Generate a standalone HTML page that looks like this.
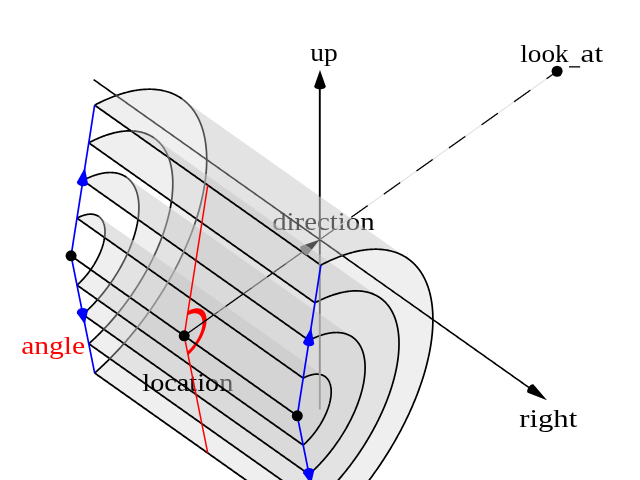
<!DOCTYPE html><html><head><meta charset="utf-8"><style>html,body{margin:0;padding:0;background:#fff;overflow:hidden}svg{display:block;will-change:transform}text{font-family:"Liberation Serif",serif}</style></head><body><svg width="640" height="480" viewBox="0 0 640 480"><defs><clipPath id="dh1"><path d="M294.97,233.97h24.56v0.56h-24.56zM294.97,234.47h24.56v0.56h-24.56zM294.97,234.97h24.56v0.56h-24.56zM294.97,235.47h25.06v0.56h-25.06zM294.97,235.97h25.06v0.56h-25.06zM294.97,236.47h25.06v0.56h-25.06zM294.97,236.97h25.06v0.56h-25.06zM294.97,237.47h25.06v0.56h-25.06zM295.97,237.97h24.06v0.56h-24.06zM296.47,238.47h23.56v0.56h-23.56zM297.47,238.97h22.56v0.56h-22.56zM297.97,239.47h22.06v0.56h-22.06zM298.47,239.97h21.56v0.56h-21.56zM299.47,240.47h20.56v0.56h-20.56zM299.97,240.97h20.06v0.56h-20.06zM300.97,241.47h19.06v0.56h-19.06zM301.47,241.97h18.56v0.56h-18.56zM301.97,242.47h18.06v0.56h-18.06zM302.97,242.97h17.06v0.56h-17.06zM303.47,243.47h16.06v0.56h-16.06zM304.47,243.97h15.06v0.56h-15.06zM304.97,244.47h14.56v0.56h-14.56zM305.97,244.97h13.56v0.56h-13.56zM306.47,245.47h13.06v0.56h-13.06zM306.97,245.97h12.56v0.56h-12.56zM307.97,246.47h11.56v0.56h-11.56zM308.47,246.97h11.06v0.56h-11.06zM309.47,247.47h10.06v0.56h-10.06zM309.97,247.97h9.56v0.56h-9.56zM310.47,248.47h9.06v0.56h-9.06zM311.47,248.97h8.06v0.56h-8.06zM311.97,249.47h7.56v0.56h-7.56zM312.97,249.97h6.56v0.56h-6.56zM313.47,250.47h6.06v0.56h-6.06zM313.97,250.97h5.56v0.56h-5.56zM314.97,251.47h4.56v0.56h-4.56zM315.47,251.97h4.06v0.56h-4.06zM316.47,252.47h2.56v0.56h-2.56zM316.97,252.97h2.06v0.56h-2.06zM317.97,253.47h1.06v0.56h-1.06zM318.47,253.97h0.56v0.56h-0.56z"/></clipPath><clipPath id="dh3"><path d="M294.97,237.97h1.06v0.56h-1.06zM294.97,238.47h1.56v0.56h-1.56zM294.97,238.97h2.56v0.56h-2.56zM294.97,239.47h3.06v0.56h-3.06zM294.97,239.97h3.56v0.56h-3.56zM294.97,240.47h4.56v0.56h-4.56zM294.97,240.97h5.06v0.56h-5.06zM294.97,241.47h6.06v0.56h-6.06zM294.97,241.97h6.56v0.56h-6.56zM294.97,242.47h7.06v0.56h-7.06zM294.97,242.97h8.06v0.56h-8.06zM294.97,243.47h8.56v0.56h-8.56zM294.97,243.97h9.56v0.56h-9.56zM294.97,244.47h10.06v0.56h-10.06zM294.97,244.97h11.06v0.56h-11.06zM294.97,245.47h11.56v0.56h-11.56zM294.97,245.97h12.06v0.56h-12.06zM294.97,246.47h13.06v0.56h-13.06zM295.47,246.97h13.06v0.56h-13.06zM295.97,247.47h13.56v0.56h-13.56zM296.97,247.97h13.06v0.56h-13.06zM297.47,248.47h13.06v0.56h-13.06zM298.47,248.97h13.06v0.56h-13.06zM298.97,249.47h13.06v0.56h-13.06zM299.97,249.97h13.06v0.56h-13.06zM300.47,250.47h13.06v0.56h-13.06zM300.97,250.97h13.06v0.56h-13.06zM301.97,251.47h13.06v0.56h-13.06zM302.47,251.97h13.06v0.56h-13.06zM303.47,252.47h13.06v0.56h-13.06zM303.97,252.97h13.06v0.56h-13.06zM304.47,253.47h13.56v0.56h-13.56zM305.47,253.97h13.06v0.56h-13.06zM305.97,254.47h13.06v0.56h-13.06zM306.97,254.97h12.06v0.56h-12.06zM307.47,255.47h11.56v0.56h-11.56zM307.97,255.97h11.06v0.56h-11.06zM308.97,256.47h10.06v0.56h-10.06zM309.47,256.97h9.56v0.56h-9.56zM310.47,257.47h8.06v0.56h-8.06z"/></clipPath><clipPath id="dh2"><path d="M294.97,246.97h0.56v0.56h-0.56zM319.47,246.97h2.56v0.56h-2.56zM294.97,247.47h1.06v0.56h-1.06zM319.47,247.47h2.56v0.56h-2.56zM294.97,247.97h2.06v0.56h-2.06zM319.47,247.97h2.56v0.56h-2.56zM294.97,248.47h2.56v0.56h-2.56zM319.47,248.47h2.56v0.56h-2.56zM294.97,248.97h3.56v0.56h-3.56zM319.47,248.97h2.56v0.56h-2.56zM294.97,249.47h4.06v0.56h-4.06zM319.47,249.47h2.56v0.56h-2.56zM294.97,249.97h5.06v0.56h-5.06zM319.47,249.97h2.56v0.56h-2.56zM294.97,250.47h5.56v0.56h-5.56zM319.47,250.47h2.56v0.56h-2.56zM294.97,250.97h6.06v0.56h-6.06zM319.47,250.97h2.56v0.56h-2.56zM294.97,251.47h7.06v0.56h-7.06zM319.47,251.47h2.56v0.56h-2.56zM294.97,251.97h7.56v0.56h-7.56zM319.47,251.97h2.56v0.56h-2.56zM294.97,252.47h8.56v0.56h-8.56zM318.97,252.47h3.06v0.56h-3.06zM294.97,252.97h9.06v0.56h-9.06zM318.97,252.97h3.06v0.56h-3.06zM294.97,253.47h9.56v0.56h-9.56zM318.97,253.47h3.06v0.56h-3.06zM294.97,253.97h10.56v0.56h-10.56zM318.97,253.97h3.06v0.56h-3.06zM294.97,254.47h11.06v0.56h-11.06zM318.97,254.47h3.06v0.56h-3.06zM294.97,254.97h12.06v0.56h-12.06zM319.97,254.97h2.06v0.56h-2.06zM294.97,255.47h12.56v0.56h-12.56zM320.47,255.47h1.56v0.56h-1.56zM294.97,255.97h13.06v0.56h-13.06zM321.47,255.97h0.56v0.56h-0.56zM294.97,256.47h14.06v0.56h-14.06zM294.97,256.97h14.56v0.56h-14.56zM294.97,257.47h15.56v0.56h-15.56zM319.47,233.97h2.56v0.56h-2.56zM319.47,234.47h2.56v0.56h-2.56zM319.47,234.97h2.56v0.56h-2.56zM319.47,243.47h2.56v0.56h-2.56zM319.47,243.97h2.56v0.56h-2.56zM319.47,244.47h2.56v0.56h-2.56zM319.47,244.97h2.56v0.56h-2.56zM319.47,245.47h2.56v0.56h-2.56zM319.47,245.97h2.56v0.56h-2.56zM319.47,246.47h2.56v0.56h-2.56zM319.97,235.47h2.06v0.56h-2.06zM319.97,235.97h2.06v0.56h-2.06zM319.97,236.47h2.06v0.56h-2.06zM319.97,236.97h2.06v0.56h-2.06zM319.97,237.47h2.06v0.56h-2.06zM319.97,237.97h2.06v0.56h-2.06zM319.97,238.47h2.06v0.56h-2.06zM319.97,238.97h2.06v0.56h-2.06zM319.97,239.47h2.06v0.56h-2.06zM319.97,239.97h2.06v0.56h-2.06zM319.97,240.47h2.06v0.56h-2.06zM319.97,240.97h2.06v0.56h-2.06zM319.97,241.47h2.06v0.56h-2.06zM319.97,241.97h2.06v0.56h-2.06zM319.97,242.47h2.06v0.56h-2.06zM319.97,242.97h2.06v0.56h-2.06z"/></clipPath><clipPath id="dh4"><path d="M318.47,257.47h3.56v0.56h-3.56zM318.97,254.97h1.06v0.56h-1.06zM318.97,255.47h1.56v0.56h-1.56zM318.97,255.97h2.56v0.56h-2.56zM318.97,256.47h3.06v0.56h-3.06zM318.97,256.97h3.06v0.56h-3.06z"/></clipPath><clipPath id="locg"><polygon points="36.17,256.23 344.01,473.98 459.50,310.70 151.66,92.95"/></clipPath><clipPath id="locb"><polygon points="36.17,256.23 344.01,473.98 228.51,637.26 -79.33,419.51"/></clipPath></defs><rect width="640" height="480" fill="#fff"/><text x="272.20" y="230.00" font-size="25.0" textLength="102.50" lengthAdjust="spacingAndGlyphs" fill="#000" >direction</text><g fill="rgb(195,195,195)" fill-opacity="0.27" stroke="none"><polygon points="76.99,285.11 77.84,284.34 78.68,283.56 79.52,282.76 80.35,281.95 81.18,281.11 82.00,280.26 82.81,279.39 83.62,278.51 84.42,277.62 85.21,276.71 85.99,275.78 86.76,274.84 87.52,273.90 88.27,272.93 89.01,271.96 89.74,270.98 90.45,269.99 91.15,268.98 91.84,267.97 92.52,266.96 93.18,265.93 93.83,264.90 94.46,263.86 95.08,262.82 95.68,261.77 96.27,260.72 96.84,259.66 97.39,258.61 97.93,257.55 98.45,256.49 98.95,255.42 99.43,254.36 99.90,253.30 100.35,252.25 100.77,251.19 101.18,250.14 101.57,249.09 101.94,248.04 102.29,247.01 102.61,245.97 102.92,244.94 103.21,243.92 103.48,242.91 103.72,241.91 103.95,240.91 104.15,239.92 104.33,238.95 104.49,237.98 104.63,237.03 104.75,236.09 104.84,235.16 104.91,234.25 104.96,233.35 104.99,232.46 105.00,231.59 104.98,230.74 104.95,229.90 104.89,229.07 104.81,228.27 104.70,227.48 104.58,226.71 104.43,225.96 104.27,225.23 104.08,224.52 103.87,223.83 103.63,223.16 103.38,222.52 103.11,221.89 102.81,221.28 102.50,220.70 102.16,220.14 101.80,219.61 101.43,219.09 101.03,218.60 100.62,218.14 100.18,217.70 99.73,217.28 99.26,216.89 98.77,216.53 324.97,376.53 325.46,376.89 325.93,377.28 326.38,377.70 326.82,378.14 327.23,378.60 327.63,379.09 328.00,379.61 328.36,380.14 328.70,380.70 329.01,381.28 329.31,381.89 329.58,382.52 329.83,383.16 330.07,383.83 330.28,384.52 330.47,385.23 330.63,385.96 330.78,386.71 330.90,387.48 331.01,388.27 331.09,389.07 331.15,389.90 331.18,390.74 331.20,391.59 331.19,392.46 331.16,393.35 331.11,394.25 331.04,395.16 330.95,396.09 330.83,397.03 330.69,397.98 330.53,398.95 330.35,399.92 330.15,400.91 329.92,401.91 329.68,402.91 329.41,403.92 329.12,404.94 328.81,405.97 328.49,407.01 328.14,408.04 327.77,409.09 327.38,410.14 326.97,411.19 326.55,412.25 326.10,413.30 325.63,414.36 325.15,415.42 324.65,416.49 324.13,417.55 323.59,418.61 323.04,419.66 322.47,420.72 321.88,421.77 321.28,422.82 320.66,423.86 320.03,424.90 319.38,425.93 318.72,426.96 318.04,427.97 317.35,428.98 316.65,429.99 315.94,430.98 315.21,431.96 314.47,432.93 313.72,433.90 312.96,434.84 312.19,435.78 311.41,436.71 310.62,437.62 309.82,438.51 309.01,439.39 308.20,440.26 307.38,441.11 306.55,441.95 305.72,442.76 304.88,443.56 304.04,444.34 303.19,445.11"/><polygon points="98.77,216.53 98.57,216.39 98.38,216.26 98.18,216.13 97.97,216.01 97.77,215.89 97.56,215.77 97.35,215.66 97.14,215.55 96.92,215.45 96.70,215.35 96.48,215.26 96.26,215.16 96.03,215.08 95.80,214.99 95.57,214.91 95.34,214.84 95.11,214.76 94.87,214.69 94.63,214.63 94.39,214.57 94.14,214.51 93.90,214.46 93.65,214.41 93.40,214.37 93.14,214.33 92.89,214.29 92.63,214.26 92.37,214.24 92.11,214.21 91.84,214.19 91.58,214.18 91.31,214.16 91.04,214.16 90.77,214.15 90.50,214.15 90.22,214.16 89.94,214.17 89.66,214.18 89.38,214.20 89.10,214.22 88.81,214.24 88.53,214.27 88.24,214.31 87.95,214.34 87.66,214.38 87.37,214.43 87.07,214.48 86.78,214.53 86.48,214.59 86.18,214.65 85.88,214.72 85.58,214.79 85.27,214.86 84.97,214.94 84.66,215.02 84.35,215.10 84.05,215.19 83.74,215.29 83.42,215.38 83.11,215.48 82.80,215.59 82.48,215.70 82.17,215.81 81.85,215.93 81.53,216.05 81.21,216.17 80.89,216.30 80.57,216.43 80.25,216.57 79.93,216.71 79.60,216.85 79.28,217.00 78.95,217.15 78.63,217.31 78.30,217.47 77.97,217.63 77.64,217.80 77.32,217.97 76.99,218.14 303.19,378.14 303.52,377.97 303.84,377.80 304.17,377.63 304.50,377.47 304.83,377.31 305.15,377.15 305.48,377.00 305.80,376.85 306.13,376.71 306.45,376.57 306.77,376.43 307.09,376.30 307.41,376.17 307.73,376.05 308.05,375.93 308.37,375.81 308.68,375.70 309.00,375.59 309.31,375.48 309.62,375.38 309.94,375.29 310.25,375.19 310.55,375.10 310.86,375.02 311.17,374.94 311.47,374.86 311.78,374.79 312.08,374.72 312.38,374.65 312.68,374.59 312.98,374.53 313.27,374.48 313.57,374.43 313.86,374.38 314.15,374.34 314.44,374.31 314.73,374.27 315.01,374.24 315.30,374.22 315.58,374.20 315.86,374.18 316.14,374.17 316.42,374.16 316.70,374.15 316.97,374.15 317.24,374.16 317.51,374.16 317.78,374.18 318.04,374.19 318.31,374.21 318.57,374.24 318.83,374.26 319.09,374.29 319.34,374.33 319.60,374.37 319.85,374.41 320.10,374.46 320.34,374.51 320.59,374.57 320.83,374.63 321.07,374.69 321.31,374.76 321.54,374.84 321.77,374.91 322.00,374.99 322.23,375.08 322.46,375.16 322.68,375.26 322.90,375.35 323.12,375.45 323.34,375.55 323.55,375.66 323.76,375.77 323.97,375.89 324.17,376.01 324.38,376.13 324.58,376.26 324.77,376.39 324.97,376.53"/><polygon points="82.87,314.41 84.57,312.89 86.26,311.32 87.94,309.73 89.60,308.09 91.26,306.42 92.90,304.72 94.53,302.99 96.14,301.23 97.74,299.43 99.32,297.61 100.88,295.76 102.42,293.89 103.94,291.99 105.44,290.07 106.92,288.12 108.37,286.16 109.80,284.17 111.21,282.17 112.59,280.15 113.94,278.11 115.27,276.06 116.56,274.00 117.83,271.92 119.06,269.83 120.27,267.74 121.44,265.63 122.58,263.53 123.69,261.41 124.76,259.29 125.80,257.17 126.80,255.05 127.77,252.93 128.70,250.81 129.59,248.69 130.45,246.58 131.26,244.48 132.04,242.38 132.77,240.29 133.47,238.21 134.13,236.14 134.74,234.09 135.32,232.05 135.85,230.02 136.34,228.01 136.79,226.02 137.20,224.05 137.56,222.10 137.88,220.17 138.16,218.26 138.39,216.38 138.58,214.53 138.73,212.70 138.83,210.90 138.89,209.12 138.90,207.38 138.87,205.67 138.80,203.99 138.68,202.35 138.52,200.74 138.31,199.17 138.06,197.63 137.77,196.13 137.43,194.67 137.05,193.25 136.63,191.87 136.17,190.53 135.66,189.23 135.11,187.98 134.52,186.77 133.89,185.60 133.22,184.48 132.51,183.41 131.76,182.39 130.97,181.41 130.13,180.48 129.27,179.60 128.36,178.76 127.42,177.98 126.44,177.25 352.64,337.25 353.62,337.98 354.56,338.76 355.47,339.60 356.33,340.48 357.17,341.41 357.96,342.39 358.71,343.41 359.42,344.48 360.09,345.60 360.72,346.77 361.31,347.98 361.86,349.23 362.37,350.53 362.83,351.87 363.25,353.25 363.63,354.67 363.97,356.13 364.26,357.63 364.51,359.17 364.72,360.74 364.88,362.35 365.00,363.99 365.07,365.67 365.10,367.38 365.09,369.12 365.03,370.90 364.93,372.70 364.78,374.53 364.59,376.38 364.36,378.26 364.08,380.17 363.76,382.10 363.40,384.05 362.99,386.02 362.54,388.01 362.05,390.02 361.52,392.05 360.94,394.09 360.33,396.14 359.67,398.21 358.97,400.29 358.24,402.38 357.46,404.48 356.65,406.58 355.79,408.69 354.90,410.81 353.97,412.93 353.00,415.05 352.00,417.17 350.96,419.29 349.89,421.41 348.78,423.53 347.64,425.63 346.47,427.74 345.26,429.83 344.03,431.92 342.76,434.00 341.47,436.06 340.14,438.11 338.79,440.15 337.41,442.17 336.00,444.17 334.57,446.16 333.12,448.12 331.64,450.07 330.14,451.99 328.62,453.89 327.08,455.76 325.52,457.61 323.94,459.43 322.34,461.23 320.73,462.99 319.10,464.72 317.46,466.42 315.80,468.09 314.14,469.73 312.46,471.32 310.77,472.89 309.07,474.41"/><polygon points="126.44,177.25 126.05,176.98 125.65,176.72 125.25,176.47 124.85,176.22 124.44,175.98 124.02,175.75 123.60,175.53 123.17,175.31 122.74,175.10 122.31,174.90 121.86,174.71 121.42,174.53 120.97,174.35 120.51,174.18 120.05,174.02 119.58,173.87 119.11,173.73 118.64,173.59 118.16,173.46 117.67,173.34 117.18,173.23 116.69,173.13 116.19,173.03 115.69,172.94 115.18,172.86 114.67,172.79 114.16,172.73 113.64,172.67 113.12,172.62 112.59,172.58 112.06,172.55 111.52,172.53 110.98,172.51 110.44,172.51 109.89,172.51 109.34,172.52 108.78,172.54 108.23,172.56 107.66,172.60 107.10,172.64 106.53,172.69 105.96,172.75 105.38,172.81 104.80,172.89 104.22,172.97 103.63,173.06 103.04,173.16 102.45,173.26 101.86,173.38 101.26,173.50 100.66,173.63 100.05,173.77 99.45,173.92 98.84,174.07 98.22,174.24 97.61,174.41 96.99,174.59 96.37,174.77 95.75,174.97 95.12,175.17 94.50,175.38 93.87,175.60 93.23,175.82 92.60,176.06 91.96,176.30 91.33,176.55 90.69,176.80 90.04,177.07 89.40,177.34 88.75,177.62 88.11,177.91 87.46,178.20 86.81,178.51 86.15,178.82 85.50,179.13 84.85,179.46 84.19,179.79 83.53,180.13 82.87,180.48 309.07,340.48 309.73,340.13 310.39,339.79 311.05,339.46 311.70,339.13 312.35,338.82 313.01,338.51 313.66,338.20 314.31,337.91 314.95,337.62 315.60,337.34 316.24,337.07 316.89,336.80 317.53,336.55 318.16,336.30 318.80,336.06 319.43,335.82 320.07,335.60 320.70,335.38 321.32,335.17 321.95,334.97 322.57,334.77 323.19,334.59 323.81,334.41 324.42,334.24 325.04,334.07 325.65,333.92 326.25,333.77 326.86,333.63 327.46,333.50 328.06,333.38 328.65,333.26 329.24,333.16 329.83,333.06 330.42,332.97 331.00,332.89 331.58,332.81 332.16,332.75 332.73,332.69 333.30,332.64 333.86,332.60 334.43,332.56 334.98,332.54 335.54,332.52 336.09,332.51 336.64,332.51 337.18,332.51 337.72,332.53 338.26,332.55 338.79,332.58 339.32,332.62 339.84,332.67 340.36,332.73 340.87,332.79 341.38,332.86 341.89,332.94 342.39,333.03 342.89,333.13 343.38,333.23 343.87,333.34 344.36,333.46 344.84,333.59 345.31,333.73 345.78,333.87 346.25,334.02 346.71,334.18 347.17,334.35 347.62,334.53 348.06,334.71 348.51,334.90 348.94,335.10 349.37,335.31 349.80,335.53 350.22,335.75 350.64,335.98 351.05,336.22 351.45,336.47 351.85,336.72 352.25,336.98 352.64,337.25"/><polygon points="88.76,343.72 91.31,341.43 93.84,339.09 96.35,336.69 98.86,334.24 101.34,331.73 103.80,329.18 106.24,326.58 108.66,323.94 111.06,321.25 113.43,318.52 115.77,315.75 118.08,312.93 120.36,310.09 122.61,307.20 124.83,304.29 127.01,301.34 129.16,298.36 131.26,295.35 133.33,292.32 135.36,289.27 137.35,286.19 139.29,283.09 141.19,279.98 143.05,276.85 144.85,273.71 146.61,270.55 148.32,267.39 149.98,264.22 151.59,261.04 153.15,257.86 154.65,254.67 156.10,251.49 157.50,248.31 158.84,245.14 160.12,241.97 161.34,238.82 162.51,235.67 163.61,232.53 164.66,229.42 165.64,226.31 166.57,223.23 167.43,220.17 168.23,217.13 168.96,214.12 169.64,211.13 170.25,208.17 170.79,205.25 171.27,202.35 171.69,199.50 172.04,196.67 172.32,193.89 172.54,191.15 172.69,188.44 172.78,185.79 172.80,183.17 172.75,180.61 172.64,178.09 172.47,175.62 172.22,173.21 171.91,170.85 171.54,168.54 171.10,166.29 170.60,164.10 170.03,161.97 169.40,159.90 168.70,157.89 167.94,155.95 167.12,154.07 166.23,152.25 165.29,150.51 164.28,148.83 163.21,147.22 162.08,145.68 160.90,144.21 159.65,142.82 158.35,141.49 156.99,140.25 155.58,139.07 154.11,137.98 380.31,297.98 381.78,299.07 383.19,300.25 384.55,301.49 385.85,302.82 387.10,304.21 388.28,305.68 389.41,307.22 390.48,308.83 391.49,310.51 392.43,312.25 393.32,314.07 394.14,315.95 394.90,317.89 395.60,319.90 396.23,321.97 396.80,324.10 397.30,326.29 397.74,328.54 398.11,330.85 398.42,333.21 398.67,335.62 398.84,338.09 398.95,340.61 399.00,343.17 398.98,345.79 398.89,348.44 398.74,351.15 398.52,353.89 398.24,356.67 397.89,359.50 397.47,362.35 396.99,365.25 396.45,368.17 395.84,371.13 395.16,374.12 394.43,377.13 393.63,380.17 392.77,383.23 391.84,386.31 390.86,389.42 389.81,392.53 388.71,395.67 387.54,398.82 386.32,401.97 385.04,405.14 383.70,408.31 382.30,411.49 380.85,414.67 379.35,417.86 377.79,421.04 376.18,424.22 374.52,427.39 372.81,430.55 371.05,433.71 369.25,436.85 367.39,439.98 365.49,443.09 363.55,446.19 361.56,449.27 359.53,452.32 357.46,455.35 355.36,458.36 353.21,461.34 351.03,464.29 348.81,467.20 346.56,470.09 344.28,472.93 341.97,475.75 339.63,478.52 337.26,481.25 334.86,483.94 332.44,486.58 330.00,489.18 327.54,491.73 325.06,494.24 322.55,496.69 320.04,499.09 317.51,501.43 314.96,503.72"/><polygon points="154.11,137.98 153.52,137.57 152.93,137.18 152.33,136.80 151.72,136.43 151.10,136.07 150.48,135.72 149.85,135.39 149.21,135.06 148.56,134.75 147.91,134.45 147.25,134.17 146.58,133.89 145.90,133.63 145.21,133.37 144.52,133.13 143.82,132.91 143.12,132.69 142.41,132.48 141.69,132.29 140.96,132.11 140.23,131.94 139.49,131.79 138.74,131.64 137.99,131.51 137.23,131.39 136.46,131.28 135.69,131.19 134.91,131.11 134.12,131.04 133.33,130.98 132.53,130.93 131.73,130.89 130.92,130.87 130.11,130.86 129.29,130.86 128.46,130.88 127.63,130.90 126.79,130.94 125.95,130.99 125.10,131.06 124.24,131.13 123.38,131.22 122.52,131.32 121.65,131.43 120.78,131.55 119.90,131.69 119.01,131.84 118.13,132.00 117.23,132.17 116.34,132.35 115.43,132.55 114.53,132.76 113.62,132.98 112.70,133.21 111.79,133.45 110.86,133.71 109.94,133.98 109.01,134.26 108.07,134.55 107.13,134.85 106.19,135.17 105.25,135.50 104.30,135.83 103.35,136.18 102.40,136.55 101.44,136.92 100.48,137.31 99.52,137.70 98.55,138.11 97.58,138.53 96.61,138.96 95.64,139.41 94.66,139.86 93.68,140.33 92.70,140.80 91.72,141.29 90.73,141.79 89.75,142.30 88.76,142.82 314.96,302.82 315.95,302.30 316.93,301.79 317.92,301.29 318.90,300.80 319.88,300.33 320.86,299.86 321.84,299.41 322.81,298.96 323.78,298.53 324.75,298.11 325.72,297.70 326.68,297.31 327.64,296.92 328.60,296.55 329.55,296.18 330.50,295.83 331.45,295.50 332.39,295.17 333.33,294.85 334.27,294.55 335.21,294.26 336.14,293.98 337.06,293.71 337.99,293.45 338.90,293.21 339.82,292.98 340.73,292.76 341.63,292.55 342.54,292.35 343.43,292.17 344.33,292.00 345.21,291.84 346.10,291.69 346.98,291.55 347.85,291.43 348.72,291.32 349.58,291.22 350.44,291.13 351.30,291.06 352.15,290.99 352.99,290.94 353.83,290.90 354.66,290.88 355.49,290.86 356.31,290.86 357.12,290.87 357.93,290.89 358.73,290.93 359.53,290.98 360.32,291.04 361.11,291.11 361.89,291.19 362.66,291.28 363.43,291.39 364.19,291.51 364.94,291.64 365.69,291.79 366.43,291.94 367.16,292.11 367.89,292.29 368.61,292.48 369.32,292.69 370.02,292.91 370.72,293.13 371.41,293.37 372.10,293.63 372.78,293.89 373.45,294.17 374.11,294.45 374.76,294.75 375.41,295.06 376.05,295.39 376.68,295.72 377.30,296.07 377.92,296.43 378.53,296.80 379.13,297.18 379.72,297.57 380.31,297.98"/><polygon points="94.65,373.03 98.04,369.98 101.42,366.85 104.77,363.65 108.11,360.38 111.42,357.05 114.70,353.64 117.96,350.18 121.18,346.65 124.38,343.07 127.54,339.42 130.66,335.73 133.74,331.98 136.78,328.18 139.78,324.34 142.74,320.45 145.65,316.52 148.51,312.55 151.32,308.54 154.08,304.50 156.78,300.42 159.43,296.32 162.02,292.19 164.56,288.04 167.03,283.87 169.44,279.68 171.78,275.47 174.06,271.25 176.28,267.02 178.42,262.78 180.50,258.54 182.51,254.30 184.44,250.06 186.30,245.82 188.08,241.59 189.79,237.36 191.42,233.15 192.98,228.96 194.45,224.78 195.84,220.62 197.16,216.48 198.39,212.37 199.54,208.29 200.60,204.24 201.59,200.22 202.48,196.24 203.30,192.30 204.02,188.40 204.66,184.54 205.21,180.73 205.68,176.96 206.06,173.25 206.35,169.59 206.55,165.99 206.67,162.45 206.70,158.96 206.64,155.54 206.49,152.19 206.25,148.90 205.93,145.68 205.52,142.53 205.02,139.46 204.44,136.46 203.76,133.54 203.01,130.69 202.16,127.93 201.23,125.26 200.22,122.66 199.13,120.16 197.95,117.74 196.68,115.41 195.34,113.17 193.92,111.02 192.41,108.97 190.83,107.02 189.17,105.16 187.43,103.39 185.62,101.73 183.73,100.17 181.78,98.70 407.98,258.70 409.93,260.17 411.82,261.73 413.63,263.39 415.37,265.16 417.03,267.02 418.61,268.97 420.12,271.02 421.54,273.17 422.88,275.41 424.15,277.74 425.33,280.16 426.42,282.66 427.43,285.26 428.36,287.93 429.21,290.69 429.96,293.54 430.64,296.46 431.22,299.46 431.72,302.53 432.13,305.68 432.45,308.90 432.69,312.19 432.84,315.54 432.90,318.96 432.87,322.45 432.75,325.99 432.55,329.59 432.26,333.25 431.88,336.96 431.41,340.73 430.86,344.54 430.22,348.40 429.50,352.30 428.68,356.24 427.79,360.22 426.80,364.24 425.74,368.29 424.59,372.37 423.36,376.48 422.04,380.62 420.65,384.78 419.18,388.96 417.62,393.15 415.99,397.36 414.28,401.59 412.50,405.82 410.64,410.06 408.71,414.30 406.70,418.54 404.62,422.78 402.48,427.02 400.26,431.25 397.98,435.47 395.64,439.68 393.23,443.87 390.76,448.04 388.22,452.19 385.63,456.32 382.98,460.42 380.28,464.50 377.52,468.54 374.71,472.55 371.85,476.52 368.94,480.45 365.98,484.34 362.98,488.18 359.94,491.98 356.86,495.73 353.74,499.42 350.58,503.07 347.38,506.65 344.16,510.18 340.90,513.64 337.62,517.05 334.31,520.38 330.97,523.65 327.62,526.85 324.24,529.98 320.85,533.03"/><polygon points="181.78,98.70 181.00,98.16 180.21,97.64 179.41,97.13 178.59,96.64 177.77,96.16 176.94,95.70 176.10,95.25 175.25,94.82 174.38,94.40 173.51,94.00 172.63,93.62 171.73,93.25 170.83,92.90 169.92,92.56 169.00,92.24 168.07,91.94 167.13,91.65 166.18,91.38 165.22,91.12 164.25,90.88 163.27,90.66 162.28,90.45 161.29,90.26 160.28,90.08 159.27,89.92 158.25,89.78 157.22,89.65 156.18,89.54 155.13,89.45 154.08,89.37 153.01,89.31 151.94,89.26 150.86,89.23 149.78,89.22 148.68,89.22 147.58,89.24 146.47,89.27 145.35,89.32 144.23,89.39 143.10,89.48 141.96,89.58 140.81,89.69 139.66,89.82 138.50,89.97 137.34,90.14 136.16,90.32 134.99,90.52 133.80,90.73 132.61,90.96 131.42,91.20 130.21,91.47 129.00,91.74 127.79,92.04 126.57,92.35 125.35,92.67 124.12,93.01 122.88,93.37 121.64,93.74 120.40,94.13 119.15,94.54 117.89,94.96 116.63,95.39 115.37,95.85 114.10,96.31 112.83,96.80 111.55,97.29 110.27,97.81 108.99,98.34 107.70,98.88 106.41,99.44 105.11,100.02 103.82,100.61 102.51,101.21 101.21,101.83 99.90,102.47 98.59,103.12 97.28,103.79 95.96,104.47 94.65,105.16 320.85,265.16 322.16,264.47 323.48,263.79 324.79,263.12 326.10,262.47 327.41,261.83 328.71,261.21 330.02,260.61 331.31,260.02 332.61,259.44 333.90,258.88 335.19,258.34 336.47,257.81 337.75,257.29 339.03,256.80 340.30,256.31 341.57,255.85 342.83,255.39 344.09,254.96 345.35,254.54 346.60,254.13 347.84,253.74 349.08,253.37 350.32,253.01 351.55,252.67 352.77,252.35 353.99,252.04 355.20,251.74 356.41,251.47 357.62,251.20 358.81,250.96 360.00,250.73 361.19,250.52 362.36,250.32 363.54,250.14 364.70,249.97 365.86,249.82 367.01,249.69 368.16,249.58 369.30,249.48 370.43,249.39 371.55,249.32 372.67,249.27 373.78,249.24 374.88,249.22 375.98,249.22 377.06,249.23 378.14,249.26 379.21,249.31 380.28,249.37 381.33,249.45 382.38,249.54 383.42,249.65 384.45,249.78 385.47,249.92 386.48,250.08 387.49,250.26 388.48,250.45 389.47,250.66 390.45,250.88 391.42,251.12 392.38,251.38 393.33,251.65 394.27,251.94 395.20,252.24 396.12,252.56 397.03,252.90 397.93,253.25 398.83,253.62 399.71,254.00 400.58,254.40 401.45,254.82 402.30,255.25 403.14,255.70 403.97,256.16 404.79,256.64 405.61,257.13 406.41,257.64 407.20,258.16 407.98,258.70"/></g><g clip-path="url(#locb)"><text x="142.30" y="390.60" font-size="25.0" textLength="91.00" lengthAdjust="spacingAndGlyphs" fill="#000" >location</text></g><g clip-path="url(#locg)"><text x="142.30" y="390.60" font-size="25.0" textLength="91.00" lengthAdjust="spacingAndGlyphs" fill="#5e5e5e" >location</text></g><polygon points="187.38,351.63 188.23,350.85 189.07,350.04 189.90,349.21 190.71,348.34 191.52,347.44 192.30,346.52 193.07,345.57 193.82,344.60 194.54,343.61 195.25,342.60 195.93,341.58 196.58,340.55 197.20,339.50 197.80,338.45 198.36,337.39 198.89,336.32 199.39,335.26 199.86,334.20 200.29,333.14 200.69,332.08 201.04,331.04 201.36,330.00 201.65,328.98 201.89,327.98 202.09,326.99 202.26,326.02 202.38,325.07 202.46,324.15 202.50,323.25 202.50,322.38 202.46,321.54 202.38,320.74 202.26,319.96 202.09,319.23 201.89,318.52 201.65,317.86 201.36,317.24 201.04,316.66 200.69,316.12 200.29,315.63 199.86,315.18 199.39,314.78 198.89,314.43 198.36,314.12 197.80,313.86 197.20,313.65 196.58,313.49 195.93,313.38 195.25,313.32 194.54,313.31 193.82,313.35 193.07,313.45 192.30,313.59 191.52,313.78 190.71,314.02 189.90,314.31 189.07,314.65 188.23,315.03 187.38,315.46 188.09,310.94 189.12,310.42 190.15,309.95 191.16,309.53 192.16,309.18 193.14,308.89 194.10,308.65 195.04,308.48 195.96,308.37 196.84,308.32 197.70,308.33 198.53,308.40 199.33,308.53 200.09,308.73 200.82,308.99 201.51,309.30 202.16,309.68 202.77,310.11 203.34,310.60 203.87,311.15 204.35,311.75 204.79,312.41 205.18,313.12 205.52,313.88 205.82,314.69 206.07,315.54 206.27,316.44 206.42,317.39 206.52,318.38 206.57,319.40 206.57,320.46 206.52,321.56 206.42,322.69 206.27,323.84 206.07,325.03 205.82,326.24 205.52,327.47 205.18,328.72 204.79,329.98 204.35,331.26 203.87,332.55 203.34,333.84 202.77,335.14 202.16,336.44 201.51,337.74 200.82,339.04 200.09,340.32 199.33,341.60 198.53,342.87 197.70,344.11 196.84,345.34 195.96,346.55 195.04,347.74 194.10,348.90 193.14,350.03 192.16,351.12 191.16,352.18 190.15,353.21 189.12,354.20 188.09,355.14" fill="#ff0000"/><g stroke-linejoin="round"><polyline points="76.99,218.14 78.12,218.94 79.25,219.74 80.38,220.54 81.51,221.34 82.64,222.14 83.77,222.94 84.90,223.74 86.03,224.54 87.17,225.34 88.30,226.14 89.43,226.94 90.56,227.74 91.69,228.54 92.82,229.34 93.95,230.14 95.08,230.94 96.21,231.74 97.34,232.54 98.48,233.34 99.61,234.14 100.74,234.94 101.87,235.74 103.00,236.54 104.13,237.34 105.26,238.14 106.39,238.94 107.52,239.74 108.65,240.54 109.79,241.34 110.92,242.14 112.05,242.94 113.18,243.74 114.31,244.54 115.44,245.34 116.57,246.14 117.70,246.94 118.83,247.74 119.96,248.54 121.10,249.34 122.23,250.14 123.36,250.94 124.49,251.74 125.62,252.54 126.75,253.34 127.88,254.14 129.01,254.94 130.14,255.74 131.27,256.54 132.41,257.34 133.54,258.14 134.67,258.94 135.80,259.74 136.93,260.54 138.06,261.34 139.19,262.14 140.32,262.94 141.45,263.74 142.58,264.54 143.72,265.34 144.85,266.14 145.98,266.94 147.11,267.74 148.24,268.54 149.37,269.34 150.50,270.14 151.63,270.94 152.76,271.74 153.89,272.54 155.03,273.34 156.16,274.14 157.29,274.94 158.42,275.74 159.55,276.54 160.68,277.34 161.81,278.14 162.94,278.94 164.07,279.74 165.20,280.54 166.34,281.34 167.47,282.14 168.60,282.94 169.73,283.74 170.86,284.54 171.99,285.34 173.12,286.14 174.25,286.94 175.38,287.74 176.51,288.54 177.65,289.34 178.78,290.14 179.91,290.94 181.04,291.74 182.17,292.54 183.30,293.34 184.43,294.14 185.56,294.94 186.69,295.74 187.82,296.54 188.96,297.34 190.09,298.14 191.22,298.94 192.35,299.74 193.48,300.54 194.61,301.34 195.74,302.14 196.87,302.94 198.00,303.74 199.13,304.54 200.27,305.34 201.40,306.14 202.53,306.94 203.66,307.74 204.79,308.54 205.92,309.34 207.05,310.14 208.18,310.94 209.31,311.74 210.44,312.54 211.58,313.34 212.71,314.14 213.84,314.94 214.97,315.74 216.10,316.54 217.23,317.34 218.36,318.14 219.49,318.94 220.62,319.74 221.75,320.54 222.89,321.34 224.02,322.14 225.15,322.94 226.28,323.74 227.41,324.54 228.54,325.34 229.67,326.14 230.80,326.94 231.93,327.74 233.06,328.54 234.20,329.34 235.33,330.14 236.46,330.94 237.59,331.74 238.72,332.54 239.85,333.34 240.98,334.14 242.11,334.94 243.24,335.74 244.37,336.54 245.51,337.34 246.64,338.14 247.77,338.94 248.90,339.74 250.03,340.54 251.16,341.34 252.29,342.14 253.42,342.94 254.55,343.74 255.68,344.54 256.82,345.34 257.95,346.14 259.08,346.94 260.21,347.74 261.34,348.54 262.47,349.34 263.60,350.14 264.73,350.94 265.86,351.74 266.99,352.54 268.13,353.34 269.26,354.14 270.39,354.94 271.52,355.74 272.65,356.54 273.78,357.34 274.91,358.14 276.04,358.94 277.17,359.74 278.30,360.54 279.44,361.34 280.57,362.14 281.70,362.94 282.83,363.74 283.96,364.54 285.09,365.34 286.22,366.14 287.35,366.94 288.48,367.74 289.61,368.54 290.75,369.34 291.88,370.14 293.01,370.94 294.14,371.74 295.27,372.54 296.40,373.34 297.53,374.14 298.66,374.94 299.79,375.74 300.92,376.54 302.06,377.34 303.19,378.14" stroke="#000000" stroke-width="1.8" fill="none" /><polyline points="76.99,285.11 78.12,285.91 79.25,286.71 80.38,287.51 81.51,288.31 82.64,289.11 83.77,289.91 84.90,290.71 86.03,291.51 87.17,292.31 88.30,293.11 89.43,293.91 90.56,294.71 91.69,295.51 92.82,296.31 93.95,297.11 95.08,297.91 96.21,298.71 97.34,299.51 98.48,300.31 99.61,301.11 100.74,301.91 101.87,302.71 103.00,303.51 104.13,304.31 105.26,305.11 106.39,305.91 107.52,306.71 108.65,307.51 109.79,308.31 110.92,309.11 112.05,309.91 113.18,310.71 114.31,311.51 115.44,312.31 116.57,313.11 117.70,313.91 118.83,314.71 119.96,315.51 121.10,316.31 122.23,317.11 123.36,317.91 124.49,318.71 125.62,319.51 126.75,320.31 127.88,321.11 129.01,321.91 130.14,322.71 131.27,323.51 132.41,324.31 133.54,325.11 134.67,325.91 135.80,326.71 136.93,327.51 138.06,328.31 139.19,329.11 140.32,329.91 141.45,330.71 142.58,331.51 143.72,332.31 144.85,333.11 145.98,333.91 147.11,334.71 148.24,335.51 149.37,336.31 150.50,337.11 151.63,337.91 152.76,338.71 153.89,339.51 155.03,340.31 156.16,341.11 157.29,341.91 158.42,342.71 159.55,343.51 160.68,344.31 161.81,345.11 162.94,345.91 164.07,346.71 165.20,347.51 166.34,348.31 167.47,349.11 168.60,349.91 169.73,350.71 170.86,351.51 171.99,352.31 173.12,353.11 174.25,353.91 175.38,354.71 176.51,355.51 177.65,356.31 178.78,357.11 179.91,357.91 181.04,358.71 182.17,359.51 183.30,360.31 184.43,361.11 185.56,361.91 186.69,362.71 187.82,363.51 188.96,364.31 190.09,365.11 191.22,365.91 192.35,366.71 193.48,367.51 194.61,368.31 195.74,369.11 196.87,369.91 198.00,370.71 199.13,371.51 200.27,372.31 201.40,373.11 202.53,373.91 203.66,374.71 204.79,375.51 205.92,376.31 207.05,377.11 208.18,377.91 209.31,378.71 210.44,379.51 211.58,380.31 212.71,381.11 213.84,381.91 214.97,382.71 216.10,383.51 217.23,384.31 218.36,385.11 219.49,385.91 220.62,386.71 221.75,387.51 222.89,388.31 224.02,389.11 225.15,389.91 226.28,390.71 227.41,391.51 228.54,392.31 229.67,393.11 230.80,393.91 231.93,394.71 233.06,395.51 234.20,396.31 235.33,397.11 236.46,397.91 237.59,398.71 238.72,399.51 239.85,400.31 240.98,401.11 242.11,401.91 243.24,402.71 244.37,403.51 245.51,404.31 246.64,405.11 247.77,405.91 248.90,406.71 250.03,407.51 251.16,408.31 252.29,409.11 253.42,409.91 254.55,410.71 255.68,411.51 256.82,412.31 257.95,413.11 259.08,413.91 260.21,414.71 261.34,415.51 262.47,416.31 263.60,417.11 264.73,417.91 265.86,418.71 266.99,419.51 268.13,420.31 269.26,421.11 270.39,421.91 271.52,422.71 272.65,423.51 273.78,424.31 274.91,425.11 276.04,425.91 277.17,426.71 278.30,427.51 279.44,428.31 280.57,429.11 281.70,429.91 282.83,430.71 283.96,431.51 285.09,432.31 286.22,433.11 287.35,433.91 288.48,434.71 289.61,435.51 290.75,436.31 291.88,437.11 293.01,437.91 294.14,438.71 295.27,439.51 296.40,440.31 297.53,441.11 298.66,441.91 299.79,442.71 300.92,443.51 302.06,444.31 303.19,445.11" stroke="#000000" stroke-width="1.8" fill="none" /><polyline points="82.87,180.48 84.00,181.28 85.14,182.08 86.27,182.88 87.40,183.68 88.53,184.48 89.66,185.28 90.79,186.08 91.92,186.88 93.05,187.68 94.18,188.48 95.31,189.28 96.45,190.08 97.58,190.88 98.71,191.68 99.84,192.48 100.97,193.28 102.10,194.08 103.23,194.88 104.36,195.68 105.49,196.48 106.62,197.28 107.76,198.08 108.89,198.88 110.02,199.68 111.15,200.48 112.28,201.28 113.41,202.08 114.54,202.88 115.67,203.68 116.80,204.48 117.93,205.28 119.07,206.08 120.20,206.88 121.33,207.68 122.46,208.48 123.59,209.28 124.72,210.08 125.85,210.88 126.98,211.68 128.11,212.48 129.24,213.28 130.38,214.08 131.51,214.88 132.64,215.68 133.77,216.48 134.90,217.28 136.03,218.08 137.16,218.88 138.29,219.68 139.42,220.48 140.55,221.28 141.69,222.08 142.82,222.88 143.95,223.68 145.08,224.48 146.21,225.28 147.34,226.08 148.47,226.88 149.60,227.68 150.73,228.48 151.86,229.28 153.00,230.08 154.13,230.88 155.26,231.68 156.39,232.48 157.52,233.28 158.65,234.08 159.78,234.88 160.91,235.68 162.04,236.48 163.17,237.28 164.31,238.08 165.44,238.88 166.57,239.68 167.70,240.48 168.83,241.28 169.96,242.08 171.09,242.88 172.22,243.68 173.35,244.48 174.48,245.28 175.62,246.08 176.75,246.88 177.88,247.68 179.01,248.48 180.14,249.28 181.27,250.08 182.40,250.88 183.53,251.68 184.66,252.48 185.79,253.28 186.93,254.08 188.06,254.88 189.19,255.68 190.32,256.48 191.45,257.28 192.58,258.08 193.71,258.88 194.84,259.68 195.97,260.48 197.10,261.28 198.24,262.08 199.37,262.88 200.50,263.68 201.63,264.48 202.76,265.28 203.89,266.08 205.02,266.88 206.15,267.68 207.28,268.48 208.41,269.28 209.55,270.08 210.68,270.88 211.81,271.68 212.94,272.48 214.07,273.28 215.20,274.08 216.33,274.88 217.46,275.68 218.59,276.48 219.72,277.28 220.86,278.08 221.99,278.88 223.12,279.68 224.25,280.48 225.38,281.28 226.51,282.08 227.64,282.88 228.77,283.68 229.90,284.48 231.03,285.28 232.17,286.08 233.30,286.88 234.43,287.68 235.56,288.48 236.69,289.28 237.82,290.08 238.95,290.88 240.08,291.68 241.21,292.48 242.34,293.28 243.48,294.08 244.61,294.88 245.74,295.68 246.87,296.48 248.00,297.28 249.13,298.08 250.26,298.88 251.39,299.68 252.52,300.48 253.65,301.28 254.79,302.08 255.92,302.88 257.05,303.68 258.18,304.48 259.31,305.28 260.44,306.08 261.57,306.88 262.70,307.68 263.83,308.48 264.96,309.28 266.10,310.08 267.23,310.88 268.36,311.68 269.49,312.48 270.62,313.28 271.75,314.08 272.88,314.88 274.01,315.68 275.14,316.48 276.27,317.28 277.41,318.08 278.54,318.88 279.67,319.68 280.80,320.48 281.93,321.28 283.06,322.08 284.19,322.88 285.32,323.68 286.45,324.48 287.58,325.28 288.72,326.08 289.85,326.88 290.98,327.68 292.11,328.48 293.24,329.28 294.37,330.08 295.50,330.88 296.63,331.68 297.76,332.48 298.89,333.28 300.03,334.08 301.16,334.88 302.29,335.68 303.42,336.48 304.55,337.28 305.68,338.08 306.81,338.88 307.94,339.68 309.07,340.48" stroke="#000000" stroke-width="1.8" fill="none" /><polyline points="82.87,314.41 84.00,315.21 85.14,316.01 86.27,316.81 87.40,317.61 88.53,318.41 89.66,319.21 90.79,320.01 91.92,320.81 93.05,321.61 94.18,322.41 95.31,323.21 96.45,324.01 97.58,324.81 98.71,325.61 99.84,326.41 100.97,327.21 102.10,328.01 103.23,328.81 104.36,329.61 105.49,330.41 106.62,331.21 107.76,332.01 108.89,332.81 110.02,333.61 111.15,334.41 112.28,335.21 113.41,336.01 114.54,336.81 115.67,337.61 116.80,338.41 117.93,339.21 119.07,340.01 120.20,340.81 121.33,341.61 122.46,342.41 123.59,343.21 124.72,344.01 125.85,344.81 126.98,345.61 128.11,346.41 129.24,347.21 130.38,348.01 131.51,348.81 132.64,349.61 133.77,350.41 134.90,351.21 136.03,352.01 137.16,352.81 138.29,353.61 139.42,354.41 140.55,355.21 141.69,356.01 142.82,356.81 143.95,357.61 145.08,358.41 146.21,359.21 147.34,360.01 148.47,360.81 149.60,361.61 150.73,362.41 151.86,363.21 153.00,364.01 154.13,364.81 155.26,365.61 156.39,366.41 157.52,367.21 158.65,368.01 159.78,368.81 160.91,369.61 162.04,370.41 163.17,371.21 164.31,372.01 165.44,372.81 166.57,373.61 167.70,374.41 168.83,375.21 169.96,376.01 171.09,376.81 172.22,377.61 173.35,378.41 174.48,379.21 175.62,380.01 176.75,380.81 177.88,381.61 179.01,382.41 180.14,383.21 181.27,384.01 182.40,384.81 183.53,385.61 184.66,386.41 185.79,387.21 186.93,388.01 188.06,388.81 189.19,389.61 190.32,390.41 191.45,391.21 192.58,392.01 193.71,392.81 194.84,393.61 195.97,394.41 197.10,395.21 198.24,396.01 199.37,396.81 200.50,397.61 201.63,398.41 202.76,399.21 203.89,400.01 205.02,400.81 206.15,401.61 207.28,402.41 208.41,403.21 209.55,404.01 210.68,404.81 211.81,405.61 212.94,406.41 214.07,407.21 215.20,408.01 216.33,408.81 217.46,409.61 218.59,410.41 219.72,411.21 220.86,412.01 221.99,412.81 223.12,413.61 224.25,414.41 225.38,415.21 226.51,416.01 227.64,416.81 228.77,417.61 229.90,418.41 231.03,419.21 232.17,420.01 233.30,420.81 234.43,421.61 235.56,422.41 236.69,423.21 237.82,424.01 238.95,424.81 240.08,425.61 241.21,426.41 242.34,427.21 243.48,428.01 244.61,428.81 245.74,429.61 246.87,430.41 248.00,431.21 249.13,432.01 250.26,432.81 251.39,433.61 252.52,434.41 253.65,435.21 254.79,436.01 255.92,436.81 257.05,437.61 258.18,438.41 259.31,439.21 260.44,440.01 261.57,440.81 262.70,441.61 263.83,442.41 264.96,443.21 266.10,444.01 267.23,444.81 268.36,445.61 269.49,446.41 270.62,447.21 271.75,448.01 272.88,448.81 274.01,449.61 275.14,450.41 276.27,451.21 277.41,452.01 278.54,452.81 279.67,453.61 280.80,454.41 281.93,455.21 283.06,456.01 284.19,456.81 285.32,457.61 286.45,458.41 287.58,459.21 288.72,460.01 289.85,460.81 290.98,461.61 292.11,462.41 293.24,463.21 294.37,464.01 295.50,464.81 296.63,465.61 297.76,466.41 298.89,467.21 300.03,468.01 301.16,468.81 302.29,469.61 303.42,470.41 304.55,471.21 305.68,472.01 306.81,472.81 307.94,473.61 309.07,474.41" stroke="#000000" stroke-width="1.8" fill="none" /><polyline points="88.76,142.82 89.89,143.62 91.02,144.42 92.15,145.22 93.28,146.02 94.42,146.82 95.55,147.62 96.68,148.42 97.81,149.22 98.94,150.02 100.07,150.82 101.20,151.62 102.33,152.42 103.46,153.22 104.59,154.02 105.73,154.82 106.86,155.62 107.99,156.42 109.12,157.22 110.25,158.02 111.38,158.82 112.51,159.62 113.64,160.42 114.77,161.22 115.90,162.02 117.04,162.82 118.17,163.62 119.30,164.42 120.43,165.22 121.56,166.02 122.69,166.82 123.82,167.62 124.95,168.42 126.08,169.22 127.21,170.02 128.35,170.82 129.48,171.62 130.61,172.42 131.74,173.22 132.87,174.02 134.00,174.82 135.13,175.62 136.26,176.42 137.39,177.22 138.52,178.02 139.66,178.82 140.79,179.62 141.92,180.42 143.05,181.22 144.18,182.02 145.31,182.82 146.44,183.62 147.57,184.42 148.70,185.22 149.83,186.02 150.97,186.82 152.10,187.62 153.23,188.42 154.36,189.22 155.49,190.02 156.62,190.82 157.75,191.62 158.88,192.42 160.01,193.22 161.14,194.02 162.28,194.82 163.41,195.62 164.54,196.42 165.67,197.22 166.80,198.02 167.93,198.82 169.06,199.62 170.19,200.42 171.32,201.22 172.45,202.02 173.59,202.82 174.72,203.62 175.85,204.42 176.98,205.22 178.11,206.02 179.24,206.82 180.37,207.62 181.50,208.42 182.63,209.22 183.76,210.02 184.90,210.82 186.03,211.62 187.16,212.42 188.29,213.22 189.42,214.02 190.55,214.82 191.68,215.62 192.81,216.42 193.94,217.22 195.07,218.02 196.21,218.82 197.34,219.62 198.47,220.42 199.60,221.22 200.73,222.02 201.86,222.82 202.99,223.62 204.12,224.42 205.25,225.22 206.38,226.02 207.52,226.82 208.65,227.62 209.78,228.42 210.91,229.22 212.04,230.02 213.17,230.82 214.30,231.62 215.43,232.42 216.56,233.22 217.69,234.02 218.83,234.82 219.96,235.62 221.09,236.42 222.22,237.22 223.35,238.02 224.48,238.82 225.61,239.62 226.74,240.42 227.87,241.22 229.00,242.02 230.14,242.82 231.27,243.62 232.40,244.42 233.53,245.22 234.66,246.02 235.79,246.82 236.92,247.62 238.05,248.42 239.18,249.22 240.31,250.02 241.45,250.82 242.58,251.62 243.71,252.42 244.84,253.22 245.97,254.02 247.10,254.82 248.23,255.62 249.36,256.42 250.49,257.22 251.62,258.02 252.76,258.82 253.89,259.62 255.02,260.42 256.15,261.22 257.28,262.02 258.41,262.82 259.54,263.62 260.67,264.42 261.80,265.22 262.93,266.02 264.07,266.82 265.20,267.62 266.33,268.42 267.46,269.22 268.59,270.02 269.72,270.82 270.85,271.62 271.98,272.42 273.11,273.22 274.24,274.02 275.38,274.82 276.51,275.62 277.64,276.42 278.77,277.22 279.90,278.02 281.03,278.82 282.16,279.62 283.29,280.42 284.42,281.22 285.55,282.02 286.69,282.82 287.82,283.62 288.95,284.42 290.08,285.22 291.21,286.02 292.34,286.82 293.47,287.62 294.60,288.42 295.73,289.22 296.86,290.02 298.00,290.82 299.13,291.62 300.26,292.42 301.39,293.22 302.52,294.02 303.65,294.82 304.78,295.62 305.91,296.42 307.04,297.22 308.17,298.02 309.31,298.82 310.44,299.62 311.57,300.42 312.70,301.22 313.83,302.02 314.96,302.82" stroke="#000000" stroke-width="1.8" fill="none" /><polyline points="88.76,343.72 89.89,344.52 91.02,345.32 92.15,346.12 93.28,346.92 94.42,347.72 95.55,348.52 96.68,349.32 97.81,350.12 98.94,350.92 100.07,351.72 101.20,352.52 102.33,353.32 103.46,354.12 104.59,354.92 105.73,355.72 106.86,356.52 107.99,357.32 109.12,358.12 110.25,358.92 111.38,359.72 112.51,360.52 113.64,361.32 114.77,362.12 115.90,362.92 117.04,363.72 118.17,364.52 119.30,365.32 120.43,366.12 121.56,366.92 122.69,367.72 123.82,368.52 124.95,369.32 126.08,370.12 127.21,370.92 128.35,371.72 129.48,372.52 130.61,373.32 131.74,374.12 132.87,374.92 134.00,375.72 135.13,376.52 136.26,377.32 137.39,378.12 138.52,378.92 139.66,379.72 140.79,380.52 141.92,381.32 143.05,382.12 144.18,382.92 145.31,383.72 146.44,384.52 147.57,385.32 148.70,386.12 149.83,386.92 150.97,387.72 152.10,388.52 153.23,389.32 154.36,390.12 155.49,390.92 156.62,391.72 157.75,392.52 158.88,393.32 160.01,394.12 161.14,394.92 162.28,395.72 163.41,396.52 164.54,397.32 165.67,398.12 166.80,398.92 167.93,399.72 169.06,400.52 170.19,401.32 171.32,402.12 172.45,402.92 173.59,403.72 174.72,404.52 175.85,405.32 176.98,406.12 178.11,406.92 179.24,407.72 180.37,408.52 181.50,409.32 182.63,410.12 183.76,410.92 184.90,411.72 186.03,412.52 187.16,413.32 188.29,414.12 189.42,414.92 190.55,415.72 191.68,416.52 192.81,417.32 193.94,418.12 195.07,418.92 196.21,419.72 197.34,420.52 198.47,421.32 199.60,422.12 200.73,422.92 201.86,423.72 202.99,424.52 204.12,425.32 205.25,426.12 206.38,426.92 207.52,427.72 208.65,428.52 209.78,429.32 210.91,430.12 212.04,430.92 213.17,431.72 214.30,432.52 215.43,433.32 216.56,434.12 217.69,434.92 218.83,435.72 219.96,436.52 221.09,437.32 222.22,438.12 223.35,438.92 224.48,439.72 225.61,440.52 226.74,441.32 227.87,442.12 229.00,442.92 230.14,443.72 231.27,444.52 232.40,445.32 233.53,446.12 234.66,446.92 235.79,447.72 236.92,448.52 238.05,449.32 239.18,450.12 240.31,450.92 241.45,451.72 242.58,452.52 243.71,453.32 244.84,454.12 245.97,454.92 247.10,455.72 248.23,456.52 249.36,457.32 250.49,458.12 251.62,458.92 252.76,459.72 253.89,460.52 255.02,461.32 256.15,462.12 257.28,462.92 258.41,463.72 259.54,464.52 260.67,465.32 261.80,466.12 262.93,466.92 264.07,467.72 265.20,468.52 266.33,469.32 267.46,470.12 268.59,470.92 269.72,471.72 270.85,472.52 271.98,473.32 273.11,474.12 274.24,474.92 275.38,475.72 276.51,476.52 277.64,477.32 278.77,478.12 279.90,478.92 281.03,479.72 282.16,480.52 283.29,481.32 284.42,482.12 285.55,482.92 286.69,483.72 287.82,484.52 288.95,485.32 290.08,486.12 291.21,486.92 292.34,487.72 293.47,488.52 294.60,489.32 295.73,490.12 296.86,490.92 298.00,491.72 299.13,492.52 300.26,493.32 301.39,494.12 302.52,494.92 303.65,495.72 304.78,496.52 305.91,497.32 307.04,498.12 308.17,498.92 309.31,499.72 310.44,500.52 311.57,501.32 312.70,502.12 313.83,502.92 314.96,503.72" stroke="#000000" stroke-width="1.8" fill="none" /><polyline points="94.65,105.16 95.78,105.96 96.91,106.76 98.04,107.56 99.17,108.36 100.30,109.16 101.43,109.96 102.56,110.76 103.69,111.56 104.83,112.36 105.96,113.16 107.09,113.96 108.22,114.76 109.35,115.56 110.48,116.36 111.61,117.16 112.74,117.96 113.87,118.76 115.00,119.56 116.14,120.36 117.27,121.16 118.40,121.96 119.53,122.76 120.66,123.56 121.79,124.36 122.92,125.16 124.05,125.96 125.18,126.76 126.31,127.56 127.45,128.36 128.58,129.16 129.71,129.96 130.84,130.76 131.97,131.56 133.10,132.36 134.23,133.16 135.36,133.96 136.49,134.76 137.62,135.56 138.76,136.36 139.89,137.16 141.02,137.96 142.15,138.76 143.28,139.56 144.41,140.36 145.54,141.16 146.67,141.96 147.80,142.76 148.93,143.56 150.07,144.36 151.20,145.16 152.33,145.96 153.46,146.76 154.59,147.56 155.72,148.36 156.85,149.16 157.98,149.96 159.11,150.76 160.24,151.56 161.38,152.36 162.51,153.16 163.64,153.96 164.77,154.76 165.90,155.56 167.03,156.36 168.16,157.16 169.29,157.96 170.42,158.76 171.55,159.56 172.69,160.36 173.82,161.16 174.95,161.96 176.08,162.76 177.21,163.56 178.34,164.36 179.47,165.16 180.60,165.96 181.73,166.76 182.86,167.56 184.00,168.36 185.13,169.16 186.26,169.96 187.39,170.76 188.52,171.56 189.65,172.36 190.78,173.16 191.91,173.96 193.04,174.76 194.17,175.56 195.31,176.36 196.44,177.16 197.57,177.96 198.70,178.76 199.83,179.56 200.96,180.36 202.09,181.16 203.22,181.96 204.35,182.76 205.48,183.56 206.62,184.36 207.75,185.16 208.88,185.96 210.01,186.76 211.14,187.56 212.27,188.36 213.40,189.16 214.53,189.96 215.66,190.76 216.79,191.56 217.93,192.36 219.06,193.16 220.19,193.96 221.32,194.76 222.45,195.56 223.58,196.36 224.71,197.16 225.84,197.96 226.97,198.76 228.10,199.56 229.24,200.36 230.37,201.16 231.50,201.96 232.63,202.76 233.76,203.56 234.89,204.36 236.02,205.16 237.15,205.96 238.28,206.76 239.41,207.56 240.55,208.36 241.68,209.16 242.81,209.96 243.94,210.76 245.07,211.56 246.20,212.36 247.33,213.16 248.46,213.96 249.59,214.76 250.72,215.56 251.86,216.36 252.99,217.16 254.12,217.96 255.25,218.76 256.38,219.56 257.51,220.36 258.64,221.16 259.77,221.96 260.90,222.76 262.03,223.56 263.17,224.36 264.30,225.16 265.43,225.96 266.56,226.76 267.69,227.56 268.82,228.36 269.95,229.16 271.08,229.96 272.21,230.76 273.34,231.56 274.48,232.36 275.61,233.16 276.74,233.96 277.87,234.76 279.00,235.56 280.13,236.36 281.26,237.16 282.39,237.96 283.52,238.76 284.65,239.56 285.79,240.36 286.92,241.16 288.05,241.96 289.18,242.76 290.31,243.56 291.44,244.36 292.57,245.16 293.70,245.96 294.83,246.76 295.96,247.56 297.10,248.36 298.23,249.16 299.36,249.96 300.49,250.76 301.62,251.56 302.75,252.36 303.88,253.16 305.01,253.96 306.14,254.76 307.27,255.56 308.41,256.36 309.54,257.16 310.67,257.96 311.80,258.76 312.93,259.56 314.06,260.36 315.19,261.16 316.32,261.96 317.45,262.76 318.58,263.56 319.72,264.36 320.85,265.16" stroke="#000000" stroke-width="1.8" fill="none" /><polyline points="94.65,373.03 95.78,373.83 96.91,374.63 98.04,375.43 99.17,376.23 100.30,377.03 101.43,377.83 102.56,378.63 103.69,379.43 104.83,380.23 105.96,381.03 107.09,381.83 108.22,382.63 109.35,383.43 110.48,384.23 111.61,385.03 112.74,385.83 113.87,386.63 115.00,387.43 116.14,388.23 117.27,389.03 118.40,389.83 119.53,390.63 120.66,391.43 121.79,392.23 122.92,393.03 124.05,393.83 125.18,394.63 126.31,395.43 127.45,396.23 128.58,397.03 129.71,397.83 130.84,398.63 131.97,399.43 133.10,400.23 134.23,401.03 135.36,401.83 136.49,402.63 137.62,403.43 138.76,404.23 139.89,405.03 141.02,405.83 142.15,406.63 143.28,407.43 144.41,408.23 145.54,409.03 146.67,409.83 147.80,410.63 148.93,411.43 150.07,412.23 151.20,413.03 152.33,413.83 153.46,414.63 154.59,415.43 155.72,416.23 156.85,417.03 157.98,417.83 159.11,418.63 160.24,419.43 161.38,420.23 162.51,421.03 163.64,421.83 164.77,422.63 165.90,423.43 167.03,424.23 168.16,425.03 169.29,425.83 170.42,426.63 171.55,427.43 172.69,428.23 173.82,429.03 174.95,429.83 176.08,430.63 177.21,431.43 178.34,432.23 179.47,433.03 180.60,433.83 181.73,434.63 182.86,435.43 184.00,436.23 185.13,437.03 186.26,437.83 187.39,438.63 188.52,439.43 189.65,440.23 190.78,441.03 191.91,441.83 193.04,442.63 194.17,443.43 195.31,444.23 196.44,445.03 197.57,445.83 198.70,446.63 199.83,447.43 200.96,448.23 202.09,449.03 203.22,449.83 204.35,450.63 205.48,451.43 206.62,452.23 207.75,453.03 208.88,453.83 210.01,454.63 211.14,455.43 212.27,456.23 213.40,457.03 214.53,457.83 215.66,458.63 216.79,459.43 217.93,460.23 219.06,461.03 220.19,461.83 221.32,462.63 222.45,463.43 223.58,464.23 224.71,465.03 225.84,465.83 226.97,466.63 228.10,467.43 229.24,468.23 230.37,469.03 231.50,469.83 232.63,470.63 233.76,471.43 234.89,472.23 236.02,473.03 237.15,473.83 238.28,474.63 239.41,475.43 240.55,476.23 241.68,477.03 242.81,477.83 243.94,478.63 245.07,479.43 246.20,480.23 247.33,481.03 248.46,481.83 249.59,482.63 250.72,483.43 251.86,484.23 252.99,485.03 254.12,485.83 255.25,486.63 256.38,487.43 257.51,488.23 258.64,489.03 259.77,489.83 260.90,490.63 262.03,491.43 263.17,492.23 264.30,493.03 265.43,493.83 266.56,494.63 267.69,495.43 268.82,496.23 269.95,497.03 271.08,497.83 272.21,498.63 273.34,499.43 274.48,500.23 275.61,501.03 276.74,501.83 277.87,502.63 279.00,503.43 280.13,504.23 281.26,505.03 282.39,505.83 283.52,506.63 284.65,507.43 285.79,508.23 286.92,509.03 288.05,509.83 289.18,510.63 290.31,511.43 291.44,512.23 292.57,513.03 293.70,513.83 294.83,514.63 295.96,515.43 297.10,516.23 298.23,517.03 299.36,517.83 300.49,518.63 301.62,519.43 302.75,520.23 303.88,521.03 305.01,521.83 306.14,522.63 307.27,523.43 308.41,524.23 309.54,525.03 310.67,525.83 311.80,526.63 312.93,527.43 314.06,528.23 315.19,529.03 316.32,529.83 317.45,530.63 318.58,531.43 319.72,532.23 320.85,533.03" stroke="#000000" stroke-width="1.8" fill="none" /><polyline points="71.10,255.80 72.23,256.60 73.36,257.40 74.49,258.20 75.62,259.00 76.75,259.80 77.89,260.60 79.02,261.40 80.15,262.20 81.28,263.00 82.41,263.80 83.54,264.60 84.67,265.40 85.80,266.20 86.93,267.00 88.06,267.80 89.20,268.60 90.33,269.40 91.46,270.20 92.59,271.00 93.72,271.80 94.85,272.60 95.98,273.40 97.11,274.20 98.24,275.00 99.38,275.80 100.51,276.60 101.64,277.40 102.77,278.20 103.90,279.00 105.03,279.80 106.16,280.60 107.29,281.40 108.42,282.20 109.55,283.00 110.69,283.80 111.82,284.60 112.95,285.40 114.08,286.20 115.21,287.00 116.34,287.80 117.47,288.60 118.60,289.40 119.73,290.20 120.86,291.00 121.99,291.80 123.13,292.60 124.26,293.40 125.39,294.20 126.52,295.00 127.65,295.80 128.78,296.60 129.91,297.40 131.04,298.20 132.17,299.00 133.31,299.80 134.44,300.60 135.57,301.40 136.70,302.20 137.83,303.00 138.96,303.80 140.09,304.60 141.22,305.40 142.35,306.20 143.48,307.00 144.62,307.80 145.75,308.60 146.88,309.40 148.01,310.20 149.14,311.00 150.27,311.80 151.40,312.60 152.53,313.40 153.66,314.20 154.79,315.00 155.92,315.80 157.06,316.60 158.19,317.40 159.32,318.20 160.45,319.00 161.58,319.80 162.71,320.60 163.84,321.40 164.97,322.20 166.10,323.00 167.23,323.80 168.37,324.60 169.50,325.40 170.63,326.20 171.76,327.00 172.89,327.80 174.02,328.60 175.15,329.40 176.28,330.20 177.41,331.00 178.54,331.80 179.68,332.60 180.81,333.40 181.94,334.20 183.07,335.00 184.20,335.80 185.33,336.60 186.46,337.40 187.59,338.20 188.72,339.00 189.85,339.80 190.99,340.60 192.12,341.40 193.25,342.20 194.38,343.00 195.51,343.80 196.64,344.60 197.77,345.40 198.90,346.20 200.03,347.00 201.16,347.80 202.30,348.60 203.43,349.40 204.56,350.20 205.69,351.00 206.82,351.80 207.95,352.60 209.08,353.40 210.21,354.20 211.34,355.00 212.47,355.80 213.61,356.60 214.74,357.40 215.87,358.20 217.00,359.00 218.13,359.80 219.26,360.60 220.39,361.40 221.52,362.20 222.65,363.00 223.78,363.80 224.92,364.60 226.05,365.40 227.18,366.20 228.31,367.00 229.44,367.80 230.57,368.60 231.70,369.40 232.83,370.20 233.96,371.00 235.09,371.80 236.23,372.60 237.36,373.40 238.49,374.20 239.62,375.00 240.75,375.80 241.88,376.60 243.01,377.40 244.14,378.20 245.27,379.00 246.41,379.80 247.54,380.60 248.67,381.40 249.80,382.20 250.93,383.00 252.06,383.80 253.19,384.60 254.32,385.40 255.45,386.20 256.58,387.00 257.72,387.80 258.85,388.60 259.98,389.40 261.11,390.20 262.24,391.00 263.37,391.80 264.50,392.60 265.63,393.40 266.76,394.20 267.89,395.00 269.02,395.80 270.16,396.60 271.29,397.40 272.42,398.20 273.55,399.00 274.68,399.80 275.81,400.60 276.94,401.40 278.07,402.20 279.20,403.00 280.33,403.80 281.47,404.60 282.60,405.40 283.73,406.20 284.86,407.00 285.99,407.80 287.12,408.60 288.25,409.40 289.38,410.20 290.51,411.00 291.64,411.80 292.78,412.60 293.91,413.40 295.04,414.20 296.17,415.00 297.30,415.80" stroke="#000000" stroke-width="1.8" fill="none" /><polyline points="76.99,285.11 77.30,284.83 77.61,284.55 77.92,284.27 78.23,283.99 78.53,283.70 78.84,283.41 79.15,283.12 79.45,282.82 79.76,282.53 80.06,282.23 80.37,281.93 80.67,281.63 80.97,281.32 81.28,281.01 81.58,280.70 81.88,280.39 82.17,280.08 82.47,279.76 82.77,279.44 83.06,279.12 83.36,278.80 83.65,278.48 83.95,278.15 84.24,277.82 84.53,277.49 84.82,277.16 85.10,276.83 85.39,276.49 85.68,276.16 85.96,275.82 86.24,275.48 86.53,275.13 86.81,274.79 87.08,274.44 87.36,274.10 87.64,273.75 87.91,273.40 88.19,273.04 88.46,272.69 88.73,272.33 89.00,271.98 89.26,271.62 89.53,271.26 89.79,270.90 90.06,270.54 90.32,270.18 90.58,269.81 90.83,269.45 91.09,269.08 91.34,268.71 91.60,268.34 91.85,267.97 92.10,267.60 92.34,267.23 92.59,266.85 92.83,266.48 93.07,266.11 93.31,265.73 93.55,265.35 93.78,264.97 94.02,264.60 94.25,264.22 94.48,263.84 94.71,263.46 94.93,263.07 95.15,262.69 95.38,262.31 95.59,261.93 95.81,261.54 96.03,261.16 96.24,260.77 96.45,260.39 96.66,260.00 96.86,259.62 97.07,259.23 97.27,258.84 97.47,258.46 97.67,258.07 97.86,257.68 98.05,257.30 98.24,256.91 98.43,256.52 98.62,256.13 98.80,255.75 98.98,255.36 99.16,254.97 99.34,254.58 99.51,254.20 99.68,253.81 99.85,253.42 100.01,253.03 100.18,252.65 100.34,252.26 100.50,251.88 100.65,251.49 100.81,251.10 100.96,250.72 101.11,250.33 101.25,249.95 101.39,249.57 101.53,249.18 101.67,248.80 101.81,248.42 101.94,248.04 102.07,247.66 102.20,247.28 102.32,246.90 102.44,246.52 102.56,246.14 102.68,245.77 102.79,245.39 102.90,245.02 103.01,244.64 103.11,244.27 103.22,243.90 103.32,243.53 103.41,243.16 103.51,242.79 103.60,242.42 103.69,242.05 103.77,241.69 103.86,241.32 103.93,240.96 104.01,240.60 104.09,240.24 104.16,239.88 104.23,239.52 104.29,239.17 104.35,238.81 104.41,238.46 104.47,238.11 104.53,237.76" stroke="#000000" stroke-width="1.7" fill="none" /><polyline points="104.53,237.76 104.58,237.41 104.62,237.06 104.67,236.72 104.71,236.37 104.75,236.03 104.79,235.69 104.82,235.35 104.85,235.01 104.88,234.68 104.91,234.35 104.93,234.01 104.95,233.69 104.96,233.36 104.98,233.03 104.99,232.71 104.99,232.39 105.00,232.07 105.00,231.75 105.00,231.43 104.99,231.12 104.99,230.81 104.98,230.50 104.96,230.19 104.95,229.89 104.93,229.59 104.91,229.29 104.88,228.99 104.85,228.69 104.82,228.40 104.79,228.11 104.75,227.82 104.71,227.54 104.67,227.25 104.62,226.97 104.58,226.69 104.53,226.42 104.47,226.14 104.41,225.87 104.35,225.60 104.29,225.34 104.23,225.08 104.16,224.82 104.09,224.56 104.01,224.30 103.93,224.05 103.86,223.80 103.77,223.55 103.69,223.31 103.60,223.07 103.51,222.83 103.41,222.60 103.32,222.36 103.22,222.13 103.11,221.91 103.01,221.68 102.90,221.46 102.79,221.24 102.68,221.03 102.56,220.82 102.44,220.61 102.32,220.40 102.20,220.20 102.07,220.00 101.94,219.80 101.81,219.61 101.67,219.42 101.53,219.23 101.39,219.05 101.25,218.87 101.11,218.69 100.96,218.52 100.81,218.35 100.65,218.18 100.50,218.01 100.34,217.85 100.18,217.69 100.01,217.54 99.85,217.39 99.68,217.24 99.51,217.09 99.34,216.95 99.16,216.81 98.98,216.68 98.80,216.55" stroke="#505050" stroke-width="1.7" fill="none" /><polyline points="98.80,216.55 98.62,216.42 98.43,216.30 98.24,216.18 98.05,216.06 97.86,215.94 97.67,215.83 97.47,215.73 97.27,215.62 97.07,215.52 96.86,215.43 96.66,215.33 96.45,215.24 96.24,215.16 96.03,215.07 95.81,214.99 95.59,214.92 95.38,214.85 95.15,214.78 94.93,214.71 94.71,214.65 94.48,214.59 94.25,214.54 94.02,214.49 93.78,214.44 93.55,214.40 93.31,214.36 93.07,214.32 92.83,214.29 92.59,214.26 92.34,214.23 92.10,214.21 91.85,214.19 91.60,214.18 91.34,214.17 91.09,214.16 90.83,214.15 90.58,214.15 90.32,214.16 90.06,214.16 89.79,214.17 89.53,214.19 89.26,214.21 89.00,214.23 88.73,214.25 88.46,214.28 88.19,214.31 87.91,214.35 87.64,214.39 87.36,214.43 87.08,214.48 86.81,214.53 86.53,214.58 86.24,214.64 85.96,214.70 85.68,214.76 85.39,214.83 85.10,214.90 84.82,214.98 84.53,215.05 84.24,215.14 83.95,215.22 83.65,215.31 83.36,215.40 83.06,215.50 82.77,215.60 82.47,215.70 82.17,215.81 81.88,215.92 81.58,216.03 81.28,216.15 80.97,216.27 80.67,216.39 80.37,216.52 80.06,216.65 79.76,216.78 79.45,216.92 79.15,217.06 78.84,217.21 78.53,217.35 78.23,217.50 77.92,217.66 77.61,217.82 77.30,217.98 76.99,218.14" stroke="#000000" stroke-width="1.7" fill="none" /><polyline points="303.19,445.11 303.50,444.83 303.81,444.55 304.12,444.27 304.43,443.99 304.73,443.70 305.04,443.41 305.35,443.12 305.65,442.82 305.96,442.53 306.26,442.23 306.57,441.93 306.87,441.63 307.17,441.32 307.48,441.01 307.78,440.70 308.08,440.39 308.37,440.08 308.67,439.76 308.97,439.44 309.26,439.12 309.56,438.80 309.85,438.48 310.15,438.15 310.44,437.82 310.73,437.49 311.02,437.16 311.30,436.83 311.59,436.49 311.88,436.16 312.16,435.82 312.44,435.48 312.73,435.13 313.01,434.79 313.28,434.44 313.56,434.10 313.84,433.75 314.11,433.40 314.39,433.04 314.66,432.69 314.93,432.33 315.20,431.98 315.46,431.62 315.73,431.26 315.99,430.90 316.26,430.54 316.52,430.18 316.78,429.81 317.03,429.45 317.29,429.08 317.54,428.71 317.80,428.34 318.05,427.97 318.30,427.60 318.54,427.23 318.79,426.85 319.03,426.48 319.27,426.11 319.51,425.73 319.75,425.35 319.98,424.97 320.22,424.60 320.45,424.22 320.68,423.84 320.91,423.46 321.13,423.07 321.35,422.69 321.58,422.31 321.79,421.93 322.01,421.54 322.23,421.16 322.44,420.77 322.65,420.39 322.86,420.00 323.06,419.62 323.27,419.23 323.47,418.84 323.67,418.46 323.87,418.07 324.06,417.68 324.25,417.30 324.44,416.91 324.63,416.52 324.82,416.13 325.00,415.75 325.18,415.36 325.36,414.97 325.54,414.58 325.71,414.20 325.88,413.81 326.05,413.42 326.21,413.03 326.38,412.65 326.54,412.26 326.70,411.88 326.85,411.49 327.01,411.10 327.16,410.72 327.31,410.33 327.45,409.95 327.59,409.57 327.73,409.18 327.87,408.80 328.01,408.42 328.14,408.04 328.27,407.66 328.40,407.28 328.52,406.90 328.64,406.52 328.76,406.14 328.88,405.77 328.99,405.39 329.10,405.02 329.21,404.64 329.31,404.27 329.42,403.90 329.52,403.53 329.61,403.16 329.71,402.79 329.80,402.42 329.89,402.05 329.97,401.69 330.06,401.32 330.13,400.96 330.21,400.60 330.29,400.24 330.36,399.88 330.43,399.52 330.49,399.17 330.55,398.81 330.61,398.46 330.67,398.11 330.73,397.76 330.78,397.41 330.82,397.06 330.87,396.72 330.91,396.37 330.95,396.03 330.99,395.69 331.02,395.35 331.05,395.01 331.08,394.68 331.11,394.35 331.13,394.01 331.15,393.69 331.16,393.36 331.18,393.03 331.19,392.71 331.19,392.39 331.20,392.07 331.20,391.75 331.20,391.43 331.19,391.12 331.19,390.81 331.18,390.50 331.16,390.19 331.15,389.89 331.13,389.59 331.11,389.29 331.08,388.99 331.05,388.69 331.02,388.40 330.99,388.11 330.95,387.82 330.91,387.54 330.87,387.25 330.82,386.97 330.78,386.69 330.73,386.42 330.67,386.14 330.61,385.87 330.55,385.60 330.49,385.34 330.43,385.08 330.36,384.82 330.29,384.56 330.21,384.30 330.13,384.05 330.06,383.80 329.97,383.55 329.89,383.31 329.80,383.07 329.71,382.83 329.61,382.60 329.52,382.36 329.42,382.13 329.31,381.91 329.21,381.68 329.10,381.46 328.99,381.24 328.88,381.03 328.76,380.82 328.64,380.61 328.52,380.40 328.40,380.20 328.27,380.00 328.14,379.80 328.01,379.61 327.87,379.42 327.73,379.23 327.59,379.05 327.45,378.87 327.31,378.69 327.16,378.52 327.01,378.35 326.85,378.18 326.70,378.01 326.54,377.85 326.38,377.69 326.21,377.54 326.05,377.39 325.88,377.24 325.71,377.09 325.54,376.95 325.36,376.81 325.18,376.68 325.00,376.55 324.82,376.42 324.63,376.30 324.44,376.18 324.25,376.06 324.06,375.94 323.87,375.83 323.67,375.73 323.47,375.62 323.27,375.52 323.06,375.43 322.86,375.33 322.65,375.24 322.44,375.16 322.23,375.07 322.01,374.99 321.79,374.92 321.58,374.85 321.35,374.78 321.13,374.71 320.91,374.65 320.68,374.59 320.45,374.54 320.22,374.49 319.98,374.44 319.75,374.40 319.51,374.36 319.27,374.32 319.03,374.29 318.79,374.26 318.54,374.23 318.30,374.21 318.05,374.19 317.80,374.18 317.54,374.17 317.29,374.16 317.03,374.15 316.78,374.15 316.52,374.16 316.26,374.16 315.99,374.17 315.73,374.19 315.46,374.21 315.20,374.23 314.93,374.25 314.66,374.28 314.39,374.31 314.11,374.35 313.84,374.39 313.56,374.43 313.28,374.48 313.01,374.53 312.73,374.58 312.44,374.64 312.16,374.70 311.88,374.76 311.59,374.83 311.30,374.90 311.02,374.98 310.73,375.05 310.44,375.14 310.15,375.22 309.85,375.31 309.56,375.40 309.26,375.50 308.97,375.60 308.67,375.70 308.37,375.81 308.08,375.92 307.78,376.03 307.48,376.15 307.17,376.27 306.87,376.39 306.57,376.52 306.26,376.65 305.96,376.78 305.65,376.92 305.35,377.06 305.04,377.21 304.73,377.35 304.43,377.50 304.12,377.66 303.81,377.82 303.50,377.98 303.19,378.14" stroke="#000000" stroke-width="1.7" fill="none" /><polyline points="82.87,314.41 83.49,313.86 84.11,313.30 84.73,312.74 85.35,312.17 85.97,311.60 86.58,311.02 87.20,310.44 87.81,309.85 88.42,309.26 89.03,308.66 89.64,308.06 90.24,307.45 90.85,306.84 91.45,306.23 92.05,305.61 92.65,304.98 93.25,304.36 93.84,303.72 94.44,303.09 95.03,302.45 95.62,301.80 96.21,301.16 96.79,300.50 97.37,299.85" stroke="#000000" stroke-width="1.7" fill="none" /><polyline points="97.37,299.85 97.95,299.19 98.53,298.52 99.11,297.86 99.68,297.19 100.25,296.51 100.82,295.83 101.39,295.15 101.95,294.47 102.51,293.78 103.07,293.09 103.62,292.39 104.18,291.69 104.73,290.99 105.27,290.29 105.82,289.58 106.36,288.87 106.89,288.16 107.43,287.44 107.96,286.72 108.49,286.00 109.01,285.28 109.53,284.55 110.05,283.82 110.57,283.09 111.08,282.36 111.59,281.62 112.09,280.88 112.59,280.14 113.09,279.40 113.58,278.66 114.07,277.91 114.56,277.16 115.04,276.41 115.52,275.66 116.00,274.90 116.47,274.15 116.93,273.39 117.40,272.63 117.86,271.87 118.31,271.11 118.76,270.35 119.21,269.58 119.65,268.82 120.09,268.05 120.52,267.29 120.95,266.52 121.38,265.75 121.80,264.98 122.22,264.21 122.63,263.44 123.04,262.66 123.44,261.89 123.84,261.12 124.23,260.34 124.62,259.57 125.01,258.79 125.39,258.02 125.77,257.24 126.14,256.47 126.50,255.69 126.86,254.92 127.22,254.14" stroke="#505050" stroke-width="1.7" fill="none" /><polyline points="127.22,254.14 127.57,253.37 127.92,252.59 128.26,251.82 128.60,251.04 128.93,250.27 129.26,249.50 129.58,248.72 129.90,247.95 130.21,247.18 130.51,246.41 130.82,245.64 131.11,244.87 131.40,244.10 131.69,243.33 131.97,242.57 132.24,241.80 132.51,241.04 132.78,240.28" stroke="#787878" stroke-width="1.7" fill="none" /><polyline points="132.78,240.28 133.04,239.52 133.29,238.76 133.54,238.00 133.78,237.24 134.02,236.49 134.25,235.73 134.48,234.98 134.70,234.23 134.92,233.48 135.13,232.74 135.33,231.99 135.53,231.25 135.73,230.51 135.91,229.78 136.10,229.04 136.27,228.31 136.44,227.58 136.61,226.85 136.77,226.12 136.92,225.40 137.07,224.68 137.22,223.96 137.35,223.25 137.48,222.53 137.61,221.82 137.73,221.12 137.84,220.41 137.95,219.71" stroke="#000000" stroke-width="1.7" fill="none" /><polyline points="137.95,219.71 138.05,219.02 138.15,218.32 138.24,217.63 138.33,216.94 138.40,216.26 138.48,215.58 138.54,214.90 138.61,214.23 138.66,213.56 138.71,212.89 138.76,212.23 138.79,211.57 138.83,210.92 138.85,210.26 138.87,209.62 138.89,208.97 138.90,208.34 138.90,207.70 138.90,207.07 138.89,206.44 138.87,205.82 138.85,205.20 138.83,204.59 138.79,203.98 138.76,203.37 138.71,202.77 138.66,202.18 138.61,201.59 138.54,201.00 138.48,200.42 138.40,199.84 138.33,199.27 138.24,198.70 138.15,198.14 138.05,197.59 137.95,197.03 137.84,196.49 137.73,195.94 137.61,195.41 137.48,194.88 137.35,194.35 137.22,193.83 137.07,193.31 136.92,192.80 136.77,192.30 136.61,191.80 136.44,191.31 136.27,190.82 136.10,190.34 135.91,189.86 135.73,189.39 135.53,188.93 135.33,188.47 135.13,188.01 134.92,187.56 134.70,187.12 134.48,186.69 134.25,186.26 134.02,185.83 133.78,185.42 133.54,185.01 133.29,184.60 133.04,184.20 132.78,183.81 132.51,183.42 132.24,183.04 131.97,182.67 131.69,182.30 131.40,181.94 131.11,181.58 130.82,181.23 130.51,180.89 130.21,180.55 129.90,180.23 129.58,179.90 129.26,179.59 128.93,179.28 128.60,178.97 128.26,178.68 127.92,178.39 127.57,178.11 127.22,177.83 126.86,177.56 126.50,177.30" stroke="#505050" stroke-width="1.7" fill="none" /><polyline points="126.50,177.30 126.14,177.04 125.77,176.79 125.39,176.55 125.01,176.32 124.62,176.09 124.23,175.87 123.84,175.65 123.44,175.44 123.04,175.24 122.63,175.05 122.22,174.86 121.80,174.68 121.38,174.51 120.95,174.35 120.52,174.19 120.09,174.04 119.65,173.89 119.21,173.75 118.76,173.62 118.31,173.50 117.86,173.39 117.40,173.28 116.93,173.18 116.47,173.08 116.00,172.99 115.52,172.91 115.04,172.84 114.56,172.78 114.07,172.72 113.58,172.67 113.09,172.62 112.59,172.58 112.09,172.55 111.59,172.53 111.08,172.52 110.57,172.51 110.05,172.51 109.53,172.51 109.01,172.53 108.49,172.55 107.96,172.58 107.43,172.61 106.89,172.65 106.36,172.70 105.82,172.76 105.27,172.83 104.73,172.90 104.18,172.98 103.62,173.06 103.07,173.15 102.51,173.25 101.95,173.36 101.39,173.47 100.82,173.60 100.25,173.72 99.68,173.86 99.11,174.00 98.53,174.15 97.95,174.31 97.37,174.47 96.79,174.64 96.21,174.82 95.62,175.01 95.03,175.20 94.44,175.40 93.84,175.60 93.25,175.82 92.65,176.04 92.05,176.26 91.45,176.50 90.85,176.74 90.24,176.99 89.64,177.24 89.03,177.50 88.42,177.77 87.81,178.04 87.20,178.32 86.58,178.61 85.97,178.91 85.35,179.21 84.73,179.52 84.11,179.83 83.49,180.15 82.87,180.48" stroke="#000000" stroke-width="1.7" fill="none" /><polyline points="309.07,474.41 309.69,473.86 310.31,473.30 310.93,472.74 311.55,472.17 312.17,471.60 312.78,471.02 313.40,470.44 314.01,469.85 314.62,469.26 315.23,468.66 315.84,468.06 316.44,467.45 317.05,466.84 317.65,466.23 318.25,465.61 318.85,464.98 319.45,464.36 320.04,463.72 320.64,463.09 321.23,462.45 321.82,461.80 322.41,461.16 322.99,460.50 323.57,459.85 324.15,459.19 324.73,458.52 325.31,457.86 325.88,457.19 326.45,456.51 327.02,455.83 327.59,455.15 328.15,454.47 328.71,453.78 329.27,453.09 329.82,452.39 330.38,451.69 330.93,450.99 331.47,450.29 332.02,449.58 332.56,448.87 333.09,448.16 333.63,447.44 334.16,446.72 334.69,446.00 335.21,445.28 335.73,444.55 336.25,443.82 336.77,443.09 337.28,442.36 337.79,441.62 338.29,440.88 338.79,440.14 339.29,439.40 339.78,438.66 340.27,437.91 340.76,437.16 341.24,436.41 341.72,435.66 342.20,434.90 342.67,434.15 343.13,433.39 343.60,432.63 344.06,431.87 344.51,431.11 344.96,430.35 345.41,429.58 345.85,428.82 346.29,428.05 346.72,427.29 347.15,426.52 347.58,425.75 348.00,424.98 348.42,424.21 348.83,423.44 349.24,422.66 349.64,421.89 350.04,421.12 350.43,420.34 350.82,419.57 351.21,418.79 351.59,418.02 351.97,417.24 352.34,416.47 352.70,415.69 353.06,414.92 353.42,414.14 353.77,413.37 354.12,412.59 354.46,411.82 354.80,411.04 355.13,410.27 355.46,409.50 355.78,408.72 356.10,407.95 356.41,407.18 356.71,406.41 357.02,405.64 357.31,404.87 357.60,404.10 357.89,403.33 358.17,402.57 358.44,401.80 358.71,401.04 358.98,400.28 359.24,399.52 359.49,398.76 359.74,398.00 359.98,397.24 360.22,396.49 360.45,395.73 360.68,394.98 360.90,394.23 361.12,393.48 361.33,392.74 361.53,391.99 361.73,391.25 361.93,390.51 362.11,389.78 362.30,389.04 362.47,388.31 362.64,387.58 362.81,386.85 362.97,386.12 363.12,385.40 363.27,384.68 363.42,383.96 363.55,383.25 363.68,382.53 363.81,381.82 363.93,381.12 364.04,380.41 364.15,379.71 364.25,379.02 364.35,378.32 364.44,377.63 364.53,376.94 364.60,376.26 364.68,375.58 364.74,374.90 364.81,374.23 364.86,373.56 364.91,372.89 364.96,372.23 364.99,371.57 365.03,370.92 365.05,370.26 365.07,369.62 365.09,368.97 365.10,368.34 365.10,367.70 365.10,367.07 365.09,366.44 365.07,365.82 365.05,365.20 365.03,364.59 364.99,363.98 364.96,363.37 364.91,362.77 364.86,362.18 364.81,361.59 364.74,361.00 364.68,360.42 364.60,359.84 364.53,359.27 364.44,358.70 364.35,358.14 364.25,357.59 364.15,357.03 364.04,356.49 363.93,355.94 363.81,355.41 363.68,354.88 363.55,354.35 363.42,353.83 363.27,353.31 363.12,352.80 362.97,352.30 362.81,351.80 362.64,351.31 362.47,350.82 362.30,350.34 362.11,349.86 361.93,349.39 361.73,348.93 361.53,348.47 361.33,348.01 361.12,347.56 360.90,347.12 360.68,346.69 360.45,346.26 360.22,345.83 359.98,345.42 359.74,345.01 359.49,344.60 359.24,344.20 358.98,343.81 358.71,343.42 358.44,343.04 358.17,342.67 357.89,342.30 357.60,341.94 357.31,341.58 357.02,341.23 356.71,340.89 356.41,340.55 356.10,340.23 355.78,339.90 355.46,339.59 355.13,339.28 354.80,338.97 354.46,338.68 354.12,338.39 353.77,338.11 353.42,337.83 353.06,337.56 352.70,337.30 352.34,337.04 351.97,336.79 351.59,336.55 351.21,336.32 350.82,336.09 350.43,335.87 350.04,335.65 349.64,335.44 349.24,335.24 348.83,335.05 348.42,334.86 348.00,334.68 347.58,334.51 347.15,334.35 346.72,334.19 346.29,334.04 345.85,333.89 345.41,333.75 344.96,333.62 344.51,333.50 344.06,333.39 343.60,333.28 343.13,333.18 342.67,333.08 342.20,332.99 341.72,332.91 341.24,332.84 340.76,332.78 340.27,332.72 339.78,332.67 339.29,332.62 338.79,332.58 338.29,332.55 337.79,332.53 337.28,332.52 336.77,332.51 336.25,332.51 335.73,332.51 335.21,332.53 334.69,332.55 334.16,332.58 333.63,332.61 333.09,332.65 332.56,332.70 332.02,332.76 331.47,332.83 330.93,332.90 330.38,332.98 329.82,333.06 329.27,333.15 328.71,333.25 328.15,333.36 327.59,333.47 327.02,333.60 326.45,333.72 325.88,333.86 325.31,334.00 324.73,334.15 324.15,334.31 323.57,334.47 322.99,334.64 322.41,334.82 321.82,335.01 321.23,335.20 320.64,335.40 320.04,335.60 319.45,335.82 318.85,336.04 318.25,336.26 317.65,336.50 317.05,336.74 316.44,336.99 315.84,337.24 315.23,337.50 314.62,337.77 314.01,338.04 313.40,338.32 312.78,338.61 312.17,338.91 311.55,339.21 310.93,339.52 310.31,339.83 309.69,340.15 309.07,340.48" stroke="#000000" stroke-width="1.7" fill="none" /><polyline points="88.76,343.72 89.69,342.89 90.62,342.05 91.55,341.21 92.48,340.36 93.40,339.50 94.32,338.63 95.24,337.76 96.16,336.87 97.08,335.99 97.99,335.09 98.90,334.19 99.81,333.28 100.72,332.36 101.63,331.44 102.53,330.51 103.43,329.58" stroke="#000000" stroke-width="1.7" fill="none" /><polyline points="103.43,329.58 104.32,328.64 105.22,327.69 106.11,326.73 106.99,325.77 107.88,324.81 108.76,323.83 109.64,322.85 110.51,321.87 111.38,320.88 112.25,319.89 113.11,318.88 113.97,317.88 114.83,316.87 115.68,315.85 116.53,314.83 117.38,313.80" stroke="#505050" stroke-width="1.7" fill="none" /><polyline points="117.38,313.80 118.22,312.77 119.05,311.73 119.89,310.69 120.72,309.64 121.54,308.59 122.36,307.53 123.17,306.47 123.99,305.40 124.79,304.34 125.59,303.26 126.39,302.18 127.18,301.10 127.97,300.02 128.75,298.93 129.53,297.83 130.30,296.74 131.07,295.64 131.83,294.53 132.59,293.42 133.34,292.31 134.09,291.20 134.83,290.08 135.56,288.96 136.29,287.84 137.01,286.72 137.73,285.59 138.44,284.46 139.15,283.32 139.85,282.19 140.55,281.05 141.23,279.91 141.92,278.77 142.59,277.62 143.26,276.48 143.93,275.33 144.58,274.18 145.24,273.03 145.88,271.88 146.52,270.72 147.15,269.57 147.78,268.41" stroke="#787878" stroke-width="1.7" fill="none" /><polyline points="147.78,268.41 148.39,267.25 149.01,266.09 149.61,264.93 150.21,263.77 150.80,262.61 151.39,261.45 151.96,260.29 152.53,259.13 153.10,257.96 153.65,256.80 154.20,255.64" stroke="#919191" stroke-width="1.7" fill="none" /><polyline points="154.20,255.64 154.75,254.48 155.28,253.31 155.81,252.15 156.33,250.99 156.84,249.83 157.35,248.67 157.84,247.50 158.33,246.34 158.82,245.19 159.29,244.03 159.76,242.87 160.22,241.71 160.67,240.56 161.12,239.40 161.55,238.25 161.98,237.10" stroke="#505050" stroke-width="1.7" fill="none" /><polyline points="161.98,237.10 162.40,235.95 162.82,234.81 163.22,233.66 163.62,232.52 164.01,231.37 164.39,230.24 164.76,229.10 165.13,227.96 165.48,226.83 165.83,225.70 166.17,224.57 166.50,223.45 166.83,222.33 167.14,221.21 167.45,220.09 167.75,218.98 168.04,217.87 168.32,216.76 168.60,215.66 168.86,214.56 169.12,213.46 169.37,212.37 169.60,211.28 169.84,210.20 170.06,209.12 170.27,208.04" stroke="#787878" stroke-width="1.7" fill="none" /><polyline points="170.27,208.04 170.48,206.97 170.67,205.90 170.86,204.84 171.04,203.78 171.21,202.72 171.38,201.67" stroke="#000000" stroke-width="1.7" fill="none" /><polyline points="171.38,201.67 171.53,200.62 171.67,199.58 171.81,198.55 171.94,197.52 172.06,196.49 172.17,195.47 172.27,194.45 172.36,193.44 172.44,192.44 172.52,191.44 172.58,190.44 172.64,189.46 172.69,188.47 172.73,187.50 172.76,186.53 172.78,185.56 172.80,184.60 172.80,183.65 172.80,182.70 172.78,181.76 172.76,180.83 172.73,179.90 172.69,178.98 172.64,178.07 172.58,177.16 172.52,176.26 172.44,175.37 172.36,174.48 172.27,173.60 172.17,172.73 172.06,171.86 171.94,171.01 171.81,170.16 171.67,169.31 171.53,168.48 171.38,167.65 171.21,166.83 171.04,166.02 170.86,165.21 170.67,164.42 170.48,163.63 170.27,162.85 170.06,162.07 169.84,161.31 169.60,160.55 169.37,159.80 169.12,159.06 168.86,158.33 168.60,157.61" stroke="#505050" stroke-width="1.7" fill="none" /><polyline points="168.60,157.61 168.32,156.89 168.04,156.19 167.75,155.49 167.45,154.80 167.14,154.12 166.83,153.45 166.50,152.78 166.17,152.13 165.83,151.49 165.48,150.85 165.13,150.22 164.76,149.61 164.39,149.00 164.01,148.40 163.62,147.81 163.22,147.23 162.82,146.66 162.40,146.10 161.98,145.55 161.55,145.00 161.12,144.47 160.67,143.95 160.22,143.44 159.76,142.93 159.29,142.44 158.82,141.95 158.33,141.48 157.84,141.02 157.35,140.56 156.84,140.12 156.33,139.68 155.81,139.26 155.28,138.84 154.75,138.44 154.20,138.05" stroke="#787878" stroke-width="1.7" fill="none" /><polyline points="154.20,138.05 153.65,137.66 153.10,137.29 152.53,136.93 151.96,136.57 151.39,136.23 150.80,135.90 150.21,135.58 149.61,135.27 149.01,134.97 148.39,134.68 147.78,134.40 147.15,134.13 146.52,133.87 145.88,133.62 145.24,133.38 144.58,133.15 143.93,132.94 143.26,132.73 142.59,132.54 141.92,132.35 141.23,132.18 140.55,132.02 139.85,131.86 139.15,131.72 138.44,131.59 137.73,131.47 137.01,131.36 136.29,131.26 135.56,131.17 134.83,131.10 134.09,131.03 133.34,130.98 132.59,130.93 131.83,130.90 131.07,130.88" stroke="#505050" stroke-width="1.7" fill="none" /><polyline points="131.07,130.88 130.30,130.86 129.53,130.86 128.75,130.87 127.97,130.89 127.18,130.92 126.39,130.97 125.59,131.02 124.79,131.08 123.99,131.16 123.17,131.24 122.36,131.34 121.54,131.45 120.72,131.56 119.89,131.69 119.05,131.83 118.22,131.98 117.38,132.14 116.53,132.31 115.68,132.49 114.83,132.69 113.97,132.89 113.11,133.10 112.25,133.33 111.38,133.56 110.51,133.81 109.64,134.07 108.76,134.33 107.88,134.61 106.99,134.90 106.11,135.20 105.22,135.51 104.32,135.83 103.43,136.16 102.53,136.50 101.63,136.85 100.72,137.21 99.81,137.58 98.90,137.96 97.99,138.35 97.08,138.75 96.16,139.17 95.24,139.59 94.32,140.02 93.40,140.46 92.48,140.91 91.55,141.38 90.62,141.85 89.69,142.33 88.76,142.82" stroke="#000000" stroke-width="1.7" fill="none" /><polyline points="314.96,503.72 315.89,502.89 316.82,502.05 317.75,501.21 318.68,500.36 319.60,499.50 320.52,498.63 321.44,497.76 322.36,496.87 323.28,495.99 324.19,495.09 325.10,494.19 326.01,493.28 326.92,492.36 327.83,491.44 328.73,490.51 329.63,489.58 330.52,488.64 331.42,487.69 332.31,486.73 333.19,485.77 334.08,484.81 334.96,483.83 335.84,482.85 336.71,481.87 337.58,480.88 338.45,479.89 339.31,478.88 340.17,477.88 341.03,476.87 341.88,475.85 342.73,474.83 343.58,473.80 344.42,472.77 345.25,471.73 346.09,470.69 346.92,469.64 347.74,468.59 348.56,467.53 349.37,466.47 350.19,465.40 350.99,464.34 351.79,463.26 352.59,462.18 353.38,461.10 354.17,460.02 354.95,458.93 355.73,457.83 356.50,456.74 357.27,455.64 358.03,454.53 358.79,453.42 359.54,452.31 360.29,451.20 361.03,450.08 361.76,448.96 362.49,447.84 363.21,446.72 363.93,445.59 364.64,444.46 365.35,443.32 366.05,442.19 366.75,441.05 367.43,439.91 368.12,438.77 368.79,437.62 369.46,436.48 370.13,435.33 370.78,434.18 371.44,433.03 372.08,431.88 372.72,430.72 373.35,429.57 373.98,428.41 374.59,427.25 375.21,426.09 375.81,424.93 376.41,423.77 377.00,422.61 377.59,421.45 378.16,420.29 378.73,419.13 379.30,417.96 379.85,416.80 380.40,415.64 380.95,414.48 381.48,413.31 382.01,412.15 382.53,410.99 383.04,409.83 383.55,408.67 384.04,407.50 384.53,406.34 385.02,405.19 385.49,404.03 385.96,402.87 386.42,401.71 386.87,400.56 387.32,399.40 387.75,398.25 388.18,397.10 388.60,395.95 389.02,394.81 389.42,393.66 389.82,392.52 390.21,391.37 390.59,390.24 390.96,389.10 391.33,387.96 391.68,386.83 392.03,385.70 392.37,384.57 392.70,383.45 393.03,382.33 393.34,381.21 393.65,380.09 393.95,378.98 394.24,377.87 394.52,376.76 394.80,375.66 395.06,374.56 395.32,373.46 395.57,372.37 395.80,371.28 396.04,370.20 396.26,369.12 396.47,368.04 396.68,366.97 396.87,365.90 397.06,364.84 397.24,363.78 397.41,362.72 397.58,361.67 397.73,360.62 397.87,359.58 398.01,358.55 398.14,357.52 398.26,356.49 398.37,355.47 398.47,354.45 398.56,353.44 398.64,352.44 398.72,351.44 398.78,350.44 398.84,349.46 398.89,348.47 398.93,347.50 398.96,346.53 398.98,345.56 399.00,344.60 399.00,343.65 399.00,342.70 398.98,341.76 398.96,340.83 398.93,339.90 398.89,338.98 398.84,338.07 398.78,337.16 398.72,336.26 398.64,335.37 398.56,334.48 398.47,333.60 398.37,332.73 398.26,331.86 398.14,331.01 398.01,330.16 397.87,329.31 397.73,328.48 397.58,327.65 397.41,326.83 397.24,326.02 397.06,325.21 396.87,324.42 396.68,323.63 396.47,322.85 396.26,322.07 396.04,321.31 395.80,320.55 395.57,319.80 395.32,319.06 395.06,318.33 394.80,317.61 394.52,316.89 394.24,316.19 393.95,315.49 393.65,314.80 393.34,314.12 393.03,313.45 392.70,312.78 392.37,312.13 392.03,311.49 391.68,310.85 391.33,310.22 390.96,309.61 390.59,309.00 390.21,308.40 389.82,307.81 389.42,307.23 389.02,306.66 388.60,306.10 388.18,305.55 387.75,305.00 387.32,304.47 386.87,303.95 386.42,303.44 385.96,302.93 385.49,302.44 385.02,301.95 384.53,301.48 384.04,301.02 383.55,300.56 383.04,300.12 382.53,299.68 382.01,299.26 381.48,298.84 380.95,298.44 380.40,298.05 379.85,297.66 379.30,297.29 378.73,296.93 378.16,296.57 377.59,296.23 377.00,295.90 376.41,295.58 375.81,295.27 375.21,294.97 374.59,294.68 373.98,294.40 373.35,294.13 372.72,293.87 372.08,293.62 371.44,293.38 370.78,293.15 370.13,292.94 369.46,292.73 368.79,292.54 368.12,292.35 367.43,292.18 366.75,292.02 366.05,291.86 365.35,291.72 364.64,291.59 363.93,291.47 363.21,291.36 362.49,291.26 361.76,291.17 361.03,291.10 360.29,291.03 359.54,290.98 358.79,290.93 358.03,290.90 357.27,290.88 356.50,290.86 355.73,290.86 354.95,290.87 354.17,290.89 353.38,290.92 352.59,290.97 351.79,291.02 350.99,291.08 350.19,291.16 349.37,291.24 348.56,291.34 347.74,291.45 346.92,291.56 346.09,291.69 345.25,291.83 344.42,291.98 343.58,292.14 342.73,292.31 341.88,292.49 341.03,292.69 340.17,292.89 339.31,293.10 338.45,293.33 337.58,293.56 336.71,293.81 335.84,294.07 334.96,294.33 334.08,294.61 333.19,294.90 332.31,295.20 331.42,295.51 330.52,295.83 329.63,296.16 328.73,296.50 327.83,296.85 326.92,297.21 326.01,297.58 325.10,297.96 324.19,298.35 323.28,298.75 322.36,299.17 321.44,299.59 320.52,300.02 319.60,300.46 318.68,300.91 317.75,301.38 316.82,301.85 315.89,302.33 314.96,302.82" stroke="#000000" stroke-width="1.7" fill="none" /><polyline points="94.65,373.03 95.89,371.92 97.13,370.81 98.37,369.68 99.60,368.54 100.83,367.40 102.06,366.24 103.29,365.07 104.52,363.90 105.74,362.71 106.96,361.52 108.17,360.32 109.39,359.11" stroke="#000000" stroke-width="1.7" fill="none" /><polyline points="109.39,359.11 110.59,357.88 111.80,356.65 113.00,355.42 114.20,354.17 115.40,352.91 116.59,351.65 117.77,350.38 118.96,349.10 120.14,347.81 121.31,346.51 122.48,345.21 123.65,343.89" stroke="#505050" stroke-width="1.7" fill="none" /><polyline points="123.65,343.89 124.81,342.57 125.97,341.25 127.12,339.91 128.26,338.57 129.41,337.22 130.54,335.86 131.68,334.50 132.80,333.13 133.92,331.75 135.04,330.37 136.15,328.98 137.25,327.59" stroke="#787878" stroke-width="1.7" fill="none" /><polyline points="137.25,327.59 138.35,326.18 139.45,324.77 140.53,323.36 141.61,321.94 142.69,320.51 143.76,319.08 144.82,317.64 145.88,316.20 146.93,314.75 147.97,313.30 149.01,311.84 150.04,310.38 151.06,308.91 152.07,307.44 153.08,305.97 154.09,304.48 155.08,303.00 156.07,301.51 157.05,300.02 158.02,298.52 158.99,297.02 159.94,295.52 160.89,294.01 161.83,292.50 162.77,290.98 163.69,289.47 164.61,287.95 165.52,286.42 166.42,284.90 167.32,283.37 168.20,281.84" stroke="#919191" stroke-width="1.7" fill="none" /><polyline points="168.20,281.84 169.08,280.31 169.95,278.77 170.81,277.23 171.66,275.70 172.50,274.16 173.34,272.61 174.16,271.07 174.98,269.53" stroke="#a0a0a0" stroke-width="1.7" fill="none" /><polyline points="174.98,269.53 175.78,267.98 176.58,266.43 177.37,264.88 178.15,263.34 178.92,261.79 179.68,260.24 180.43,258.69 181.17,257.14 181.90,255.59 182.63,254.03 183.34,252.48" stroke="#787878" stroke-width="1.7" fill="none" /><polyline points="183.34,252.48 184.04,250.93 184.74,249.38 185.42,247.84 186.10,246.29 186.76,244.74 187.41,243.19 188.06,241.65 188.69,240.10 189.31,238.56 189.93,237.02 190.53,235.48 191.12,233.94 191.70,232.40 192.28,230.87 192.84,229.34 193.39,227.81 193.93,226.28 194.46,224.76" stroke="#919191" stroke-width="1.7" fill="none" /><polyline points="194.46,224.76 194.98,223.23 195.48,221.71 195.98,220.20 196.47,218.68" stroke="#505050" stroke-width="1.7" fill="none" /><polyline points="196.47,218.68 196.94,217.17 197.41,215.67 197.86,214.16 198.31,212.66 198.74,211.17 199.16,209.68 199.57,208.19 199.97,206.70 200.35,205.23 200.73,203.75 201.09,202.28 201.45,200.81 201.79,199.35 202.12,197.90 202.44,196.44 202.75,195.00 203.04,193.56 203.33,192.12 203.60,190.69 203.87,189.27 204.12,187.85 204.36,186.44 204.58,185.03 204.80,183.63" stroke="#787878" stroke-width="1.7" fill="none" /><polyline points="204.80,183.63 205.01,182.23 205.20,180.85 205.38,179.46 205.55,178.09 205.71,176.72 205.85,175.36 205.99,174.00" stroke="#919191" stroke-width="1.7" fill="none" /><polyline points="205.99,174.00 206.11,172.66 206.22,171.32 206.32,169.98 206.41,168.66 206.49,167.34 206.55,166.03 206.61,164.73 206.65,163.43 206.68,162.15 206.69,160.87 206.70,159.60 206.69,158.34 206.68,157.08 206.65,155.84 206.61,154.60 206.55,153.38 206.49,152.16 206.41,150.95 206.32,149.75 206.22,148.56 206.11,147.38 205.99,146.20 205.85,145.04 205.71,143.89 205.55,142.74 205.38,141.61 205.20,140.48 205.01,139.37 204.80,138.27 204.58,137.17 204.36,136.09 204.12,135.02 203.87,133.95 203.60,132.90 203.33,131.86 203.04,130.83 202.75,129.81 202.44,128.80 202.12,127.80 201.79,126.82 201.45,125.84 201.09,124.88 200.73,123.92 200.35,122.98 199.97,122.05 199.57,121.13 199.16,120.23 198.74,119.33 198.31,118.45 197.86,117.58 197.41,116.72 196.94,115.87 196.47,115.03 195.98,114.21 195.48,113.40 194.98,112.60 194.46,111.81 193.93,111.04 193.39,110.28 192.84,109.53 192.28,108.80 191.70,108.07 191.12,107.36 190.53,106.67 189.93,105.98 189.31,105.31 188.69,104.65 188.06,104.01 187.41,103.37 186.76,102.75 186.10,102.15 185.42,101.56 184.74,100.98 184.04,100.41 183.34,99.86 182.63,99.32 181.90,98.80" stroke="#505050" stroke-width="1.7" fill="none" /><polyline points="181.90,98.80 181.17,98.28 180.43,97.79 179.68,97.30 178.92,96.83 178.15,96.38 177.37,95.93 176.58,95.50 175.78,95.09 174.98,94.69 174.16,94.30 173.34,93.93 172.50,93.57 171.66,93.22 170.81,92.89 169.95,92.57 169.08,92.27 168.20,91.98 167.32,91.71 166.42,91.45 165.52,91.20 164.61,90.97 163.69,90.75 162.77,90.55 161.83,90.36 160.89,90.19 159.94,90.03 158.99,89.88 158.02,89.75 157.05,89.63 156.07,89.53 155.08,89.44 154.09,89.37 153.08,89.31 152.07,89.26 151.06,89.23 150.04,89.22 149.01,89.22 147.97,89.23 146.93,89.26 145.88,89.30 144.82,89.35 143.76,89.42 142.69,89.51 141.61,89.61 140.53,89.72 139.45,89.85 138.35,89.99 137.25,90.15 136.15,90.32 135.04,90.51 133.92,90.71 132.80,90.92 131.68,91.15 130.54,91.39 129.41,91.65 128.26,91.92 127.12,92.21 125.97,92.51 124.81,92.82 123.65,93.15 122.48,93.49 121.31,93.85 120.14,94.22 118.96,94.60 117.77,95.00 116.59,95.41 115.40,95.84 114.20,96.28 113.00,96.73 111.80,97.20 110.59,97.68 109.39,98.17 108.17,98.68 106.96,99.20 105.74,99.74 104.52,100.29 103.29,100.85 102.06,101.43 100.83,102.02 99.60,102.62 98.37,103.23 97.13,103.86 95.89,104.51 94.65,105.16" stroke="#000000" stroke-width="1.7" fill="none" /><polyline points="320.85,533.03 322.09,531.92 323.33,530.81 324.57,529.68 325.80,528.54 327.03,527.40 328.26,526.24 329.49,525.07 330.72,523.90 331.94,522.71 333.16,521.52 334.37,520.32 335.59,519.11 336.79,517.88 338.00,516.65 339.20,515.42 340.40,514.17 341.60,512.91 342.79,511.65 343.97,510.38 345.16,509.10 346.34,507.81 347.51,506.51 348.68,505.21 349.85,503.89 351.01,502.57 352.17,501.25 353.32,499.91 354.46,498.57 355.61,497.22 356.74,495.86 357.88,494.50 359.00,493.13 360.12,491.75 361.24,490.37 362.35,488.98 363.45,487.59 364.55,486.18 365.65,484.77 366.73,483.36 367.81,481.94 368.89,480.51 369.96,479.08 371.02,477.64 372.08,476.20 373.13,474.75 374.17,473.30 375.21,471.84 376.24,470.38 377.26,468.91 378.27,467.44 379.28,465.97 380.29,464.48 381.28,463.00 382.27,461.51 383.25,460.02 384.22,458.52 385.19,457.02 386.14,455.52 387.09,454.01 388.03,452.50 388.97,450.98 389.89,449.47 390.81,447.95 391.72,446.42 392.62,444.90 393.52,443.37 394.40,441.84 395.28,440.31 396.15,438.77 397.01,437.23 397.86,435.70 398.70,434.16 399.54,432.61 400.36,431.07 401.18,429.53 401.98,427.98 402.78,426.43 403.57,424.88 404.35,423.34 405.12,421.79 405.88,420.24 406.63,418.69 407.37,417.14 408.10,415.59 408.83,414.03 409.54,412.48 410.24,410.93 410.94,409.38 411.62,407.84 412.30,406.29 412.96,404.74 413.61,403.19 414.26,401.65 414.89,400.10 415.51,398.56 416.13,397.02 416.73,395.48 417.32,393.94 417.90,392.40 418.48,390.87 419.04,389.34 419.59,387.81 420.13,386.28 420.66,384.76 421.18,383.23 421.68,381.71 422.18,380.20 422.67,378.68 423.14,377.17 423.61,375.67 424.06,374.16 424.51,372.66 424.94,371.17 425.36,369.68 425.77,368.19 426.17,366.70 426.55,365.23 426.93,363.75 427.29,362.28 427.65,360.81 427.99,359.35 428.32,357.90 428.64,356.44 428.95,355.00 429.24,353.56 429.53,352.12 429.80,350.69 430.07,349.27 430.32,347.85 430.56,346.44 430.78,345.03 431.00,343.63 431.21,342.23 431.40,340.85 431.58,339.46 431.75,338.09 431.91,336.72 432.05,335.36 432.19,334.00 432.31,332.66 432.42,331.32 432.52,329.98 432.61,328.66 432.69,327.34 432.75,326.03 432.81,324.73 432.85,323.43 432.88,322.15 432.89,320.87 432.90,319.60 432.89,318.34 432.88,317.08 432.85,315.84 432.81,314.60 432.75,313.38 432.69,312.16 432.61,310.95 432.52,309.75 432.42,308.56 432.31,307.38 432.19,306.20 432.05,305.04 431.91,303.89 431.75,302.74 431.58,301.61 431.40,300.48 431.21,299.37 431.00,298.27 430.78,297.17 430.56,296.09 430.32,295.02 430.07,293.95 429.80,292.90 429.53,291.86 429.24,290.83 428.95,289.81 428.64,288.80 428.32,287.80 427.99,286.82 427.65,285.84 427.29,284.88 426.93,283.92 426.55,282.98 426.17,282.05 425.77,281.13 425.36,280.23 424.94,279.33 424.51,278.45 424.06,277.58 423.61,276.72 423.14,275.87 422.67,275.03 422.18,274.21 421.68,273.40 421.18,272.60 420.66,271.81 420.13,271.04 419.59,270.28 419.04,269.53 418.48,268.80 417.90,268.07 417.32,267.36 416.73,266.67 416.13,265.98 415.51,265.31 414.89,264.65 414.26,264.01 413.61,263.37 412.96,262.75 412.30,262.15 411.62,261.56 410.94,260.98 410.24,260.41 409.54,259.86 408.83,259.32 408.10,258.80 407.37,258.28 406.63,257.79 405.88,257.30 405.12,256.83 404.35,256.38 403.57,255.93 402.78,255.50 401.98,255.09 401.18,254.69 400.36,254.30 399.54,253.93 398.70,253.57 397.86,253.22 397.01,252.89 396.15,252.57 395.28,252.27 394.40,251.98 393.52,251.71 392.62,251.45 391.72,251.20 390.81,250.97 389.89,250.75 388.97,250.55 388.03,250.36 387.09,250.19 386.14,250.03 385.19,249.88 384.22,249.75 383.25,249.63 382.27,249.53 381.28,249.44 380.29,249.37 379.28,249.31 378.27,249.26 377.26,249.23 376.24,249.22 375.21,249.22 374.17,249.23 373.13,249.26 372.08,249.30 371.02,249.35 369.96,249.42 368.89,249.51 367.81,249.61 366.73,249.72 365.65,249.85 364.55,249.99 363.45,250.15 362.35,250.32 361.24,250.51 360.12,250.71 359.00,250.92 357.88,251.15 356.74,251.39 355.61,251.65 354.46,251.92 353.32,252.21 352.17,252.51 351.01,252.82 349.85,253.15 348.68,253.49 347.51,253.85 346.34,254.22 345.16,254.60 343.97,255.00 342.79,255.41 341.60,255.84 340.40,256.28 339.20,256.73 338.00,257.20 336.79,257.68 335.59,258.17 334.37,258.68 333.16,259.20 331.94,259.74 330.72,260.29 329.49,260.85 328.26,261.43 327.03,262.02 325.80,262.62 324.57,263.23 323.33,263.86 322.09,264.51 320.85,265.16" stroke="#000000" stroke-width="1.7" fill="none" /><polyline points="93.60,79.60 94.70,80.38 95.81,81.16 96.91,81.94 98.01,82.72 99.11,83.50 100.22,84.28 101.32,85.06 102.42,85.84 103.52,86.62 104.63,87.40 105.73,88.18 106.83,88.96 107.94,89.74 109.04,90.52 110.14,91.30 111.24,92.08 112.35,92.86 113.45,93.64 114.55,94.42 115.65,95.20" stroke="#000000" stroke-width="1.6" fill="none" /><polyline points="115.65,95.20 116.76,95.98 117.86,96.76 118.96,97.54 120.07,98.32 121.17,99.10 122.27,99.88 123.37,100.66 124.48,101.44 125.58,102.22 126.68,103.00 127.78,103.78 128.89,104.56 129.99,105.34 131.09,106.12 132.20,106.90 133.30,107.68 134.40,108.46 135.50,109.24 136.61,110.02 137.71,110.80 138.81,111.58 139.91,112.36 141.02,113.14 142.12,113.92 143.22,114.70 144.33,115.48 145.43,116.26 146.53,117.04 147.63,117.82 148.74,118.60 149.84,119.38 150.94,120.16 152.04,120.94 153.15,121.72 154.25,122.50 155.35,123.28 156.46,124.06 157.56,124.84 158.66,125.62 159.76,126.40 160.87,127.18 161.97,127.96 163.07,128.74 164.17,129.52 165.28,130.30 166.38,131.08 167.48,131.86 168.59,132.64 169.69,133.42 170.79,134.20 171.89,134.98 173.00,135.76 174.10,136.54 175.20,137.32 176.30,138.10 177.41,138.88 178.51,139.66 179.61,140.44 180.72,141.22 181.82,142.00 182.92,142.78 184.02,143.56 185.13,144.34 186.23,145.12 187.33,145.90 188.43,146.68 189.54,147.46 190.64,148.24 191.74,149.02 192.85,149.80 193.95,150.58 195.05,151.36 196.15,152.14 197.26,152.92 198.36,153.70 199.46,154.48 200.56,155.26 201.67,156.04 202.77,156.82 203.87,157.60 204.98,158.38 206.08,159.16 207.18,159.94 208.28,160.72 209.39,161.50 210.49,162.28 211.59,163.06 212.69,163.84 213.80,164.62 214.90,165.40 216.00,166.18 217.11,166.96 218.21,167.74 219.31,168.52 220.41,169.30 221.52,170.08 222.62,170.86 223.72,171.64 224.82,172.42 225.93,173.20 227.03,173.98 228.13,174.76 229.24,175.54 230.34,176.32 231.44,177.10 232.54,177.88 233.65,178.66 234.75,179.44 235.85,180.22 236.95,181.00 238.06,181.78 239.16,182.56 240.26,183.34 241.37,184.12 242.47,184.90 243.57,185.68 244.67,186.46 245.78,187.24 246.88,188.02 247.98,188.80 249.08,189.58 250.19,190.36 251.29,191.14 252.39,191.92 253.50,192.70 254.60,193.48 255.70,194.26 256.80,195.04 257.91,195.82 259.01,196.60 260.11,197.38 261.21,198.16 262.32,198.94 263.42,199.72 264.52,200.50 265.63,201.28 266.73,202.06 267.83,202.84 268.93,203.62 270.04,204.40 271.14,205.18 272.24,205.96 273.34,206.74 274.45,207.52 275.55,208.30 276.65,209.08 277.76,209.86 278.86,210.64 279.96,211.42 281.06,212.20 282.17,212.98 283.27,213.76 284.37,214.54 285.47,215.32 286.58,216.10 287.68,216.88 288.78,217.66 289.89,218.44 290.99,219.22 292.09,220.00 293.19,220.78 294.30,221.56 295.40,222.34 296.50,223.12 297.60,223.90 298.71,224.68 299.81,225.46 300.91,226.24 302.02,227.02 303.12,227.80 304.22,228.58 305.32,229.36 306.43,230.14 307.53,230.92 308.63,231.70 309.73,232.48 310.84,233.26 311.94,234.04 313.04,234.82 314.14,235.60 315.25,236.38 316.35,237.16 317.45,237.94 318.56,238.72 319.66,239.50 320.76,240.28 321.86,241.06 322.97,241.84 324.07,242.62 325.17,243.40 326.27,244.18 327.38,244.96 328.48,245.74 329.58,246.52 330.69,247.30 331.79,248.08 332.89,248.86 333.99,249.64 335.10,250.42 336.20,251.20 337.30,251.98 338.40,252.76 339.51,253.54 340.61,254.32 341.71,255.10 342.82,255.88" stroke="#505050" stroke-width="1.6" fill="none" /><polyline points="342.82,255.88 343.92,256.66 345.02,257.44 346.12,258.22 347.23,259.00 348.33,259.78 349.43,260.56 350.53,261.34 351.64,262.12 352.74,262.90 353.84,263.68 354.95,264.46 356.05,265.24 357.15,266.02 358.25,266.80 359.36,267.58 360.46,268.36 361.56,269.14 362.66,269.92 363.77,270.70 364.87,271.48 365.97,272.26 367.08,273.04 368.18,273.82 369.28,274.60 370.38,275.38 371.49,276.16 372.59,276.94 373.69,277.72 374.79,278.50 375.90,279.28 377.00,280.06 378.10,280.84 379.21,281.62 380.31,282.40 381.41,283.18 382.51,283.96 383.62,284.74 384.72,285.52 385.82,286.30 386.92,287.08 388.03,287.86 389.13,288.64 390.23,289.42 391.34,290.20 392.44,290.98 393.54,291.76 394.64,292.54 395.75,293.32 396.85,294.10 397.95,294.88 399.05,295.66 400.16,296.44 401.26,297.22 402.36,298.00 403.47,298.78 404.57,299.56 405.67,300.34 406.77,301.12 407.88,301.90 408.98,302.68 410.08,303.46 411.18,304.24 412.29,305.02 413.39,305.80 414.49,306.58 415.60,307.36 416.70,308.14 417.80,308.92 418.90,309.70 420.01,310.48 421.11,311.26 422.21,312.04 423.31,312.82 424.42,313.60 425.52,314.38 426.62,315.16 427.73,315.94 428.83,316.72 429.93,317.50 431.03,318.28 432.14,319.06 433.24,319.84 434.34,320.62 435.44,321.40 436.55,322.18 437.65,322.96 438.75,323.74 439.86,324.52 440.96,325.30 442.06,326.08 443.16,326.86 444.27,327.64 445.37,328.42 446.47,329.20 447.57,329.98 448.68,330.76 449.78,331.54 450.88,332.32 451.99,333.10 453.09,333.88 454.19,334.66 455.29,335.44 456.40,336.22 457.50,337.00 458.60,337.78 459.70,338.56 460.81,339.34 461.91,340.12 463.01,340.90 464.12,341.68 465.22,342.46 466.32,343.24 467.42,344.02 468.53,344.80 469.63,345.58 470.73,346.36 471.83,347.14 472.94,347.92 474.04,348.70 475.14,349.48 476.25,350.26 477.35,351.04 478.45,351.82 479.55,352.60 480.66,353.38 481.76,354.16 482.86,354.94 483.96,355.72 485.07,356.50 486.17,357.28 487.27,358.06 488.38,358.84 489.48,359.62 490.58,360.40 491.68,361.18 492.79,361.96 493.89,362.74 494.99,363.52 496.09,364.30 497.20,365.08 498.30,365.86 499.40,366.64 500.51,367.42 501.61,368.20 502.71,368.98 503.81,369.76 504.92,370.54 506.02,371.32 507.12,372.10 508.22,372.88 509.33,373.66 510.43,374.44 511.53,375.22 512.64,376.00 513.74,376.78 514.84,377.56 515.94,378.34 517.05,379.12 518.15,379.90 519.25,380.68 520.35,381.46 521.46,382.24 522.56,383.02 523.66,383.80 524.77,384.58 525.87,385.36 526.97,386.14 528.07,386.92 529.18,387.70 530.28,388.48 531.38,389.26 532.48,390.04 533.59,390.82 534.69,391.60" stroke="#000000" stroke-width="1.6" fill="none" /><polyline points="319.80,409.46 319.80,408.39 319.80,407.32 319.80,406.24 319.80,405.17 319.80,404.09 319.80,403.02 319.80,401.95 319.80,400.87 319.80,399.80 319.80,398.72 319.80,397.65 319.80,396.58 319.80,395.50 319.80,394.43 319.80,393.35 319.80,392.28 319.80,391.21 319.80,390.13 319.80,389.06 319.80,387.99 319.80,386.91 319.80,385.84 319.80,384.76 319.80,383.69 319.80,382.62 319.80,381.54 319.80,380.47 319.80,379.39 319.80,378.32 319.80,377.25 319.80,376.17 319.80,375.10 319.80,374.02" stroke="#a0a0a0" stroke-width="1.9" fill="none" /><polyline points="319.80,374.02 319.80,372.95" stroke="#acacac" stroke-width="1.9" fill="none" /><polyline points="319.80,372.95 319.80,371.88 319.80,370.80 319.80,369.73 319.80,368.65 319.80,367.58 319.80,366.51 319.80,365.43 319.80,364.36 319.80,363.28 319.80,362.21 319.80,361.14 319.80,360.06 319.80,358.99 319.80,357.91 319.80,356.84 319.80,355.77 319.80,354.69 319.80,353.62 319.80,352.54 319.80,351.47 319.80,350.40 319.80,349.32 319.80,348.25 319.80,347.18 319.80,346.10 319.80,345.03 319.80,343.95 319.80,342.88 319.80,341.81 319.80,340.73 319.80,339.66 319.80,338.58 319.80,337.51 319.80,336.44 319.80,335.36" stroke="#919191" stroke-width="1.9" fill="none" /><polyline points="319.80,335.36 319.80,334.29 319.80,333.21 319.80,332.14 319.80,331.07 319.80,329.99 319.80,328.92 319.80,327.84 319.80,326.77 319.80,325.70 319.80,324.62 319.80,323.55 319.80,322.47 319.80,321.40 319.80,320.33 319.80,319.25 319.80,318.18 319.80,317.10 319.80,316.03 319.80,314.96 319.80,313.88" stroke="#a0a0a0" stroke-width="1.9" fill="none" /><polyline points="319.80,313.88 319.80,312.81 319.80,311.73 319.80,310.66 319.80,309.59 319.80,308.51 319.80,307.44 319.80,306.37 319.80,305.29 319.80,304.22 319.80,303.14 319.80,302.07 319.80,301.00 319.80,299.92" stroke="#787878" stroke-width="1.9" fill="none" /><polyline points="319.80,299.92 319.80,298.85 319.80,297.77 319.80,296.70 319.80,295.63 319.80,294.55 319.80,293.48 319.80,292.40 319.80,291.33 319.80,290.26 319.80,289.18 319.80,288.11 319.80,287.03 319.80,285.96 319.80,284.89 319.80,283.81 319.80,282.74 319.80,281.66 319.80,280.59 319.80,279.52 319.80,278.44 319.80,277.37 319.80,276.29 319.80,275.22 319.80,274.15 319.80,273.07 319.80,272.00 319.80,270.92 319.80,269.85 319.80,268.78 319.80,267.70 319.80,266.63 319.80,265.56 319.80,264.48" stroke="#919191" stroke-width="1.9" fill="none" /><polyline points="319.80,264.48 319.80,263.41 319.80,262.33 319.80,261.26 319.80,260.19 319.80,259.11 319.80,258.04 319.80,256.96 319.80,255.89 319.80,254.82" stroke="#a0a0a0" stroke-width="1.9" fill="none" /><polyline points="319.80,254.82 319.80,253.74 319.80,252.67 319.80,251.59 319.80,250.52 319.80,249.45 319.80,248.37 319.80,247.30 319.80,246.22 319.80,245.15 319.80,244.08 319.80,243.00 319.80,241.93 319.80,240.85" stroke="#787878" stroke-width="1.9" fill="none" /><polyline points="319.80,240.85 319.80,239.78 319.80,238.71" stroke="#505050" stroke-width="1.9" fill="none" /><polyline points="319.80,238.71 319.80,237.63 319.80,236.56 319.80,235.48 319.80,234.41 319.80,233.34 319.80,232.26 319.80,231.19 319.80,230.11 319.80,229.04 319.80,227.97 319.80,226.89 319.80,225.82 319.80,224.75 319.80,223.67 319.80,222.60 319.80,221.52 319.80,220.45 319.80,219.38 319.80,218.30 319.80,217.23 319.80,216.15 319.80,215.08 319.80,214.01 319.80,212.93 319.80,211.86 319.80,210.78 319.80,209.71 319.80,208.64 319.80,207.56 319.80,206.49 319.80,205.41 319.80,204.34 319.80,203.27 319.80,202.19 319.80,201.12 319.80,200.04 319.80,198.97 319.80,197.90 319.80,196.82" stroke="#787878" stroke-width="1.9" fill="none" /><polyline points="319.80,196.82 319.80,195.75 319.80,194.67 319.80,193.60 319.80,192.53 319.80,191.45 319.80,190.38 319.80,189.30 319.80,188.23 319.80,187.16 319.80,186.08 319.80,185.01 319.80,183.94 319.80,182.86 319.80,181.79 319.80,180.71 319.80,179.64 319.80,178.57 319.80,177.49 319.80,176.42 319.80,175.34 319.80,174.27 319.80,173.20 319.80,172.12 319.80,171.05 319.80,169.97 319.80,168.90 319.80,167.83 319.80,166.75 319.80,165.68 319.80,164.60 319.80,163.53 319.80,162.46 319.80,161.38 319.80,160.31 319.80,159.23 319.80,158.16 319.80,157.09 319.80,156.01 319.80,154.94 319.80,153.86 319.80,152.79 319.80,151.72 319.80,150.64 319.80,149.57 319.80,148.49 319.80,147.42 319.80,146.35 319.80,145.27 319.80,144.20 319.80,143.13 319.80,142.05 319.80,140.98 319.80,139.90 319.80,138.83 319.80,137.76 319.80,136.68 319.80,135.61 319.80,134.53 319.80,133.46 319.80,132.39 319.80,131.31 319.80,130.24 319.80,129.16 319.80,128.09 319.80,127.02 319.80,125.94 319.80,124.87 319.80,123.79 319.80,122.72 319.80,121.65 319.80,120.57 319.80,119.50 319.80,118.42 319.80,117.35 319.80,116.28 319.80,115.20 319.80,114.13 319.80,113.05 319.80,111.98 319.80,110.91 319.80,109.83 319.80,108.76 319.80,107.68 319.80,106.61 319.80,105.54 319.80,104.46 319.80,103.39 319.80,102.32 319.80,101.24 319.80,100.17 319.80,99.09 319.80,98.02 319.80,96.95 319.80,95.87 319.80,94.80 319.80,93.72 319.80,92.65 319.80,91.58 319.80,90.50 319.80,89.43 319.80,88.35 319.80,87.28" stroke="#000000" stroke-width="1.9" fill="none" /><polyline points="184.20,335.80 184.81,335.37 185.42,334.93 186.03,334.50 186.64,334.07 187.25,333.64 187.86,333.20 188.47,332.77 189.08,332.34 189.69,331.90 190.30,331.47 190.91,331.04 191.52,330.61 192.13,330.17 192.74,329.74 193.35,329.31 193.96,328.87 194.57,328.44 195.18,328.01 195.79,327.57 196.40,327.14 197.01,326.71 197.62,326.28 198.23,325.84 198.84,325.41 199.45,324.98 200.07,324.54 200.68,324.11 201.29,323.68 201.90,323.25 202.51,322.81 203.12,322.38 203.73,321.95 204.34,321.51 204.95,321.08 205.56,320.65 206.17,320.22 206.78,319.78 207.39,319.35 208.00,318.92 208.61,318.48 209.22,318.05 209.83,317.62 210.44,317.19 211.05,316.75 211.66,316.32 212.27,315.89 212.88,315.45 213.49,315.02" stroke="#000000" stroke-width="1.3" fill="none" /><polyline points="213.49,315.02 214.10,314.59 214.71,314.16 215.32,313.72 215.93,313.29 216.54,312.86 217.15,312.42 217.76,311.99 218.37,311.56" stroke="#505050" stroke-width="1.3" fill="none" /><polyline points="218.37,311.56 218.98,311.12 219.59,310.69 220.20,310.26 220.81,309.83 221.42,309.39 222.03,308.96 222.64,308.53 223.25,308.09 223.86,307.66 224.47,307.23 225.08,306.80 225.69,306.36" stroke="#787878" stroke-width="1.3" fill="none" /><polyline points="225.69,306.36 226.30,305.93 226.91,305.50 227.52,305.06 228.13,304.63 228.74,304.20 229.35,303.77 229.96,303.33 230.58,302.90 231.19,302.47 231.80,302.03 232.41,301.60 233.02,301.17 233.63,300.74 234.24,300.30 234.85,299.87 235.46,299.44 236.07,299.00 236.68,298.57 237.29,298.14 237.90,297.70 238.51,297.27 239.12,296.84 239.73,296.41 240.34,295.97 240.95,295.54 241.56,295.11 242.17,294.67 242.78,294.24 243.39,293.81" stroke="#000000" stroke-width="1.3" fill="none" /><polyline points="243.39,293.81 244.00,293.38 244.61,292.94 245.22,292.51 245.83,292.08 246.44,291.64 247.05,291.21 247.66,290.78 248.27,290.35 248.88,289.91 249.49,289.48 250.10,289.05 250.71,288.61 251.32,288.18 251.93,287.75" stroke="#505050" stroke-width="1.3" fill="none" /><polyline points="251.93,287.75 252.54,287.32 253.15,286.88 253.76,286.45 254.37,286.02 254.98,285.58 255.59,285.15 256.20,284.72 256.81,284.28 257.42,283.85 258.03,283.42 258.64,282.99 259.25,282.55 259.86,282.12 260.48,281.69 261.09,281.25 261.70,280.82 262.31,280.39 262.92,279.96 263.53,279.52 264.14,279.09 264.75,278.66 265.36,278.22 265.97,277.79 266.58,277.36 267.19,276.93" stroke="#787878" stroke-width="1.3" fill="none" /><polyline points="267.19,276.93 267.80,276.49 268.41,276.06 269.02,275.63 269.63,275.19 270.24,274.76 270.85,274.33 271.46,273.90 272.07,273.46 272.68,273.03" stroke="#000000" stroke-width="1.3" fill="none" /><polyline points="272.68,273.03 273.29,272.60 273.90,272.16 274.51,271.73 275.12,271.30 275.73,270.87 276.34,270.43 276.95,270.00 277.56,269.57 278.17,269.13 278.78,268.70 279.39,268.27 280.00,267.83 280.61,267.40 281.22,266.97 281.83,266.54 282.44,266.10 283.05,265.67 283.66,265.24 284.27,264.80 284.88,264.37 285.49,263.94 286.10,263.51" stroke="#505050" stroke-width="1.3" fill="none" /><polyline points="286.10,263.51 286.71,263.07 287.32,262.64 287.93,262.21 288.54,261.77 289.15,261.34 289.76,260.91 290.37,260.48 290.99,260.04 291.60,259.61 292.21,259.18 292.82,258.74 293.43,258.31 294.04,257.88 294.65,257.45 295.26,257.01 295.87,256.58 296.48,256.15 297.09,255.71 297.70,255.28 298.31,254.85 298.92,254.41 299.53,253.98 300.14,253.55 300.75,253.12 301.36,252.68 301.97,252.25 302.58,251.82" stroke="#787878" stroke-width="1.3" fill="none" /><polyline points="302.58,251.82 303.19,251.38 303.80,250.95 304.41,250.52 305.02,250.09 305.63,249.65 306.24,249.22" stroke="#919191" stroke-width="1.3" fill="none" /><polyline points="319.80,239.60 320.99,238.76 322.17,237.92 323.36,237.07 324.55,236.23 325.73,235.39 326.92,234.55 328.11,233.71 329.29,232.87 330.48,232.02 331.66,231.18 332.85,230.34 334.04,229.50 335.22,228.66 336.41,227.82 337.60,226.97 338.78,226.13 339.97,225.29 341.16,224.45 342.34,223.61 343.53,222.76 344.72,221.92 345.90,221.08 347.09,220.24 348.28,219.40 349.46,218.56 350.65,217.71" stroke="#d2d2d2" stroke-width="1.1" fill="none" /><polyline points="350.65,217.71 351.84,216.87 353.02,216.03 354.21,215.19 355.39,214.35 356.58,213.51 357.77,212.66 358.95,211.82 360.14,210.98 361.33,210.14 362.51,209.30 363.70,208.46 364.89,207.61 366.07,206.77 367.26,205.93 368.45,205.09 369.63,204.25 370.82,203.40 372.01,202.56 373.19,201.72 374.38,200.88 375.57,200.04 376.75,199.20 377.94,198.35 379.12,197.51 380.31,196.67 381.50,195.83 382.68,194.99 383.87,194.15 385.06,193.30 386.24,192.46 387.43,191.62 388.62,190.78 389.80,189.94 390.99,189.10 392.18,188.25 393.36,187.41 394.55,186.57 395.74,185.73 396.92,184.89 398.11,184.04 399.30,183.20 400.48,182.36 401.67,181.52 402.86,180.68 404.04,179.84 405.23,178.99 406.41,178.15 407.60,177.31 408.79,176.47 409.97,175.63 411.16,174.79 412.35,173.94 413.53,173.10 414.72,172.26 415.91,171.42 417.09,170.58 418.28,169.73 419.47,168.89 420.65,168.05 421.84,167.21 423.03,166.37 424.21,165.53 425.40,164.68 426.58,163.84 427.77,163.00 428.96,162.16 430.14,161.32 431.33,160.48 432.52,159.63 433.70,158.79 434.89,157.95 436.08,157.11 437.26,156.27 438.45,155.43 439.64,154.58 440.82,153.74 442.01,152.90 443.20,152.06 444.38,151.22 445.57,150.37 446.76,149.53 447.94,148.69 449.13,147.85 450.31,147.01 451.50,146.17 452.69,145.32 453.87,144.48 455.06,143.64 456.25,142.80 457.43,141.96 458.62,141.12 459.81,140.27 460.99,139.43 462.18,138.59 463.37,137.75 464.55,136.91 465.74,136.06 466.93,135.22 468.11,134.38 469.30,133.54 470.49,132.70 471.67,131.86 472.86,131.01 474.05,130.17 475.23,129.33 476.42,128.49 477.60,127.65 478.79,126.81 479.98,125.96 481.16,125.12 482.35,124.28 483.54,123.44 484.72,122.60 485.91,121.75 487.10,120.91 488.28,120.07 489.47,119.23 490.66,118.39 491.84,117.55 493.03,116.70 494.22,115.86 495.40,115.02 496.59,114.18 497.77,113.34 498.96,112.50 500.15,111.65 501.33,110.81 502.52,109.97 503.71,109.13 504.89,108.29 506.08,107.45 507.27,106.60 508.45,105.76 509.64,104.92 510.83,104.08 512.01,103.24 513.20,102.39 514.39,101.55 515.57,100.71 516.76,99.87 517.95,99.03 519.13,98.19 520.32,97.34 521.50,96.50 522.69,95.66 523.88,94.82 525.06,93.98 526.25,93.14 527.44,92.29 528.62,91.45 529.81,90.61 531.00,89.77 532.18,88.93 533.37,88.08 534.56,87.24 535.74,86.40 536.93,85.56 538.12,84.72 539.30,83.88 540.49,83.03 541.68,82.19 542.86,81.35 544.05,80.51 545.24,79.67 546.42,78.83 547.61,77.98 548.79,77.14 549.98,76.30 551.17,75.46 552.35,74.62 553.54,73.78 554.73,72.93 555.91,72.09 557.10,71.25" stroke="#e1e1e1" stroke-width="1.1" fill="none" /><polyline points="319.80,239.60 320.18,239.33 320.57,239.06 320.95,238.78 321.33,238.51 321.72,238.24 322.10,237.97 322.48,237.70 322.87,237.42 323.25,237.15 323.63,236.88 324.02,236.61 324.40,236.34 324.78,236.06 325.17,235.79 325.55,235.52 325.93,235.25 326.32,234.98 326.70,234.70 327.08,234.43 327.47,234.16 327.85,233.89 328.23,233.62 328.62,233.35 329.00,233.07 329.38,232.80 329.77,232.53 330.15,232.26 330.53,231.99 330.92,231.71 331.30,231.44 331.68,231.17 332.07,230.90 332.45,230.63 332.83,230.35 333.22,230.08 333.60,229.81 333.98,229.54 334.37,229.27 334.75,228.99 335.13,228.72" stroke="#787878" stroke-width="1.25" fill="none" stroke-linecap="butt"/><polyline points="351.36,217.21 351.77,216.92 352.18,216.63 352.59,216.34 352.99,216.05 353.40,215.76 353.81,215.47 354.22,215.18 354.63,214.89 355.03,214.60 355.44,214.31 355.85,214.03 356.26,213.74 356.67,213.45 357.07,213.16 357.48,212.87 357.89,212.58 358.30,212.29 358.70,212.00 359.11,211.71 359.52,211.42 359.93,211.13 360.34,210.84 360.74,210.55 361.15,210.26 361.56,209.97 361.97,209.69 362.37,209.40 362.78,209.11 363.19,208.82 363.60,208.53 364.01,208.24 364.41,207.95 364.82,207.66 365.23,207.37 365.64,207.08 366.04,206.79 366.45,206.50 366.86,206.21 367.27,205.92 367.68,205.64" stroke="#000000" stroke-width="1.25" fill="none" stroke-linecap="butt"/><polyline points="383.91,194.12 384.31,193.83 384.72,193.54 385.13,193.25 385.54,192.96 385.95,192.67 386.35,192.38 386.76,192.10 387.17,191.81 387.58,191.52 387.98,191.23 388.39,190.94 388.80,190.65 389.21,190.36 389.62,190.07 390.02,189.78 390.43,189.49 390.84,189.20 391.25,188.91 391.65,188.62 392.06,188.33 392.47,188.05 392.88,187.76 393.29,187.47 393.69,187.18 394.10,186.89 394.51,186.60 394.92,186.31 395.32,186.02 395.73,185.73 396.14,185.44 396.55,185.15 396.96,184.86 397.36,184.57 397.77,184.28 398.18,183.99 398.59,183.71 398.99,183.42 399.40,183.13 399.81,182.84 400.22,182.55" stroke="#000000" stroke-width="1.25" fill="none" stroke-linecap="butt"/><polyline points="416.45,171.03 416.86,170.74 417.26,170.46 417.67,170.17 418.08,169.88 418.49,169.59 418.90,169.30 419.30,169.01 419.71,168.72 420.12,168.43 420.53,168.14 420.93,167.85 421.34,167.56 421.75,167.27 422.16,166.98 422.57,166.69 422.97,166.40 423.38,166.12 423.79,165.83 424.20,165.54 424.60,165.25 425.01,164.96 425.42,164.67 425.83,164.38 426.24,164.09 426.64,163.80 427.05,163.51 427.46,163.22 427.87,162.93 428.27,162.64 428.68,162.35 429.09,162.07 429.50,161.78 429.91,161.49 430.31,161.20 430.72,160.91 431.13,160.62 431.54,160.33 431.94,160.04 432.35,159.75 432.76,159.46" stroke="#000000" stroke-width="1.25" fill="none" stroke-linecap="butt"/><polyline points="448.99,147.95 449.40,147.66 449.81,147.37 450.21,147.08 450.62,146.79 451.03,146.50 451.44,146.21 451.85,145.92 452.25,145.63 452.66,145.34 453.07,145.05 453.48,144.76 453.88,144.48 454.29,144.19 454.70,143.90 455.11,143.61 455.52,143.32 455.92,143.03 456.33,142.74 456.74,142.45 457.15,142.16 457.55,141.87 457.96,141.58 458.37,141.29 458.78,141.00 459.19,140.71 459.59,140.42 460.00,140.14 460.41,139.85 460.82,139.56 461.22,139.27 461.63,138.98 462.04,138.69 462.45,138.40 462.86,138.11 463.26,137.82 463.67,137.53 464.08,137.24 464.49,136.95 464.90,136.66 465.30,136.37" stroke="#000000" stroke-width="1.25" fill="none" stroke-linecap="butt"/><polyline points="481.53,124.86 481.94,124.57 482.35,124.28 482.76,123.99 483.16,123.70 483.57,123.41 483.98,123.12 484.39,122.83 484.80,122.55 485.20,122.26 485.61,121.97 486.02,121.68 486.43,121.39 486.83,121.10 487.24,120.81 487.65,120.52 488.06,120.23 488.47,119.94 488.87,119.65 489.28,119.36 489.69,119.07 490.10,118.78 490.50,118.50 490.91,118.21 491.32,117.92 491.73,117.63 492.14,117.34 492.54,117.05 492.95,116.76 493.36,116.47 493.77,116.18 494.18,115.89 494.58,115.60 494.99,115.31 495.40,115.02 495.81,114.73 496.21,114.44 496.62,114.16 497.03,113.87 497.44,113.58 497.85,113.29" stroke="#000000" stroke-width="1.25" fill="none" stroke-linecap="butt"/><polyline points="514.08,101.77 514.48,101.48 514.89,101.19 515.30,100.91 515.71,100.62 516.11,100.33 516.52,100.04 516.93,99.75 517.34,99.46 517.75,99.17 518.15,98.88 518.56,98.59 518.97,98.30 519.38,98.01 519.78,97.72 520.19,97.43 520.60,97.14 521.01,96.85 521.42,96.57 521.82,96.28 522.23,95.99 522.64,95.70 523.05,95.41 523.45,95.12 523.86,94.83 524.27,94.54 524.68,94.25 525.09,93.96 525.49,93.67 525.90,93.38 526.31,93.09 526.72,92.80 527.13,92.52 527.53,92.23 527.94,91.94 528.35,91.65 528.76,91.36 529.16,91.07 529.57,90.78 529.98,90.49 530.39,90.20" stroke="#000000" stroke-width="1.25" fill="none" stroke-linecap="butt"/><polyline points="546.62,78.69 546.88,78.50 547.14,78.31 547.40,78.13 547.67,77.94 547.93,77.76 548.19,77.57 548.45,77.38 548.71,77.20 548.98,77.01 549.24,76.83 549.50,76.64 549.76,76.46 550.02,76.27 550.29,76.08 550.55,75.90 550.81,75.71 551.07,75.53 551.33,75.34 551.60,75.15 551.86,74.97 552.12,74.78 552.38,74.60 552.65,74.41 552.91,74.22 553.17,74.04 553.43,73.85 553.69,73.67 553.96,73.48 554.22,73.29 554.48,73.11 554.74,72.92 555.00,72.74 555.27,72.55 555.53,72.37 555.79,72.18 556.05,71.99 556.31,71.81 556.58,71.62 556.84,71.44 557.10,71.25" stroke="#000000" stroke-width="1.25" fill="none" stroke-linecap="butt"/><polyline points="94.65,105.16 94.41,106.67 94.18,108.17 93.94,109.68 93.70,111.19 93.47,112.69 93.23,114.20 93.00,115.71 92.76,117.21 92.53,118.72 92.29,120.23 92.06,121.73 91.82,123.24 91.59,124.74 91.35,126.25 91.11,127.76 90.88,129.26 90.64,130.77 90.41,132.28 90.17,133.78 89.94,135.29 89.70,136.80 89.47,138.30 89.23,139.81 89.00,141.31 88.76,142.82 88.52,144.33 88.29,145.83 88.05,147.34 87.82,148.85 87.58,150.35 87.35,151.86 87.11,153.37 86.88,154.87 86.64,156.38 86.41,157.88 86.17,159.39 85.93,160.90 85.70,162.40 85.46,163.91 85.23,165.42 84.99,166.92 84.76,168.43 84.52,169.94 84.29,171.44 84.05,172.95 83.82,174.46 83.58,175.96 83.34,177.47 83.11,178.97 82.87,180.48 82.64,181.99 82.40,183.49 82.17,185.00 81.93,186.51 81.70,188.01 81.46,189.52 81.23,191.03 80.99,192.53 80.75,194.04 80.52,195.54 80.28,197.05 80.05,198.56 79.81,200.06 79.58,201.57 79.34,203.08 79.11,204.58 78.87,206.09 78.63,207.60 78.40,209.10 78.16,210.61 77.93,212.11 77.69,213.62 77.46,215.13 77.22,216.63 76.99,218.14 76.75,219.65 76.52,221.15 76.28,222.66 76.04,224.17 75.81,225.67 75.57,227.18 75.34,228.69 75.10,230.19 74.87,231.70 74.63,233.20 74.40,234.71 74.16,236.22 73.93,237.72 73.69,239.23 73.45,240.74 73.22,242.24 72.98,243.75 72.75,245.26 72.51,246.76 72.28,248.27 72.04,249.77 71.81,251.28 71.57,252.79 71.34,254.29 71.10,255.80" stroke="#0000ff" stroke-width="1.7" fill="none" /><polyline points="71.10,255.80 71.34,256.97 71.57,258.14 71.81,259.32 72.04,260.49 72.28,261.66 72.51,262.83 72.75,264.01 72.98,265.18 73.22,266.35 73.45,267.52 73.69,268.70 73.93,269.87 74.16,271.04 74.40,272.21 74.63,273.38 74.87,274.56 75.10,275.73 75.34,276.90 75.57,278.07 75.81,279.25 76.04,280.42 76.28,281.59 76.52,282.76 76.75,283.93 76.99,285.11 77.22,286.28 77.46,287.45 77.69,288.62 77.93,289.80 78.16,290.97 78.40,292.14 78.63,293.31 78.87,294.49 79.11,295.66 79.34,296.83 79.58,298.00 79.81,299.17 80.05,300.35 80.28,301.52 80.52,302.69 80.75,303.86 80.99,305.04 81.23,306.21 81.46,307.38 81.70,308.55 81.93,309.73 82.17,310.90 82.40,312.07 82.64,313.24 82.87,314.41 83.11,315.59 83.34,316.76 83.58,317.93 83.82,319.10 84.05,320.28 84.29,321.45 84.52,322.62 84.76,323.79 84.99,324.97 85.23,326.14 85.46,327.31 85.70,328.48 85.93,329.65 86.17,330.83 86.41,332.00 86.64,333.17 86.88,334.34 87.11,335.52 87.35,336.69 87.58,337.86 87.82,339.03 88.05,340.20 88.29,341.38 88.52,342.55 88.76,343.72 89.00,344.89 89.23,346.07 89.47,347.24 89.70,348.41 89.94,349.58 90.17,350.76 90.41,351.93 90.64,353.10 90.88,354.27 91.11,355.44 91.35,356.62 91.59,357.79 91.82,358.96 92.06,360.13 92.29,361.31 92.53,362.48 92.76,363.65 93.00,364.82 93.23,366.00 93.47,367.17 93.70,368.34 93.94,369.51 94.18,370.68 94.41,371.86 94.65,373.03" stroke="#0000ff" stroke-width="1.7" fill="none" /><polyline points="320.85,265.16 320.61,266.67 320.38,268.17 320.14,269.68 319.90,271.19 319.67,272.69 319.43,274.20 319.20,275.71 318.96,277.21 318.73,278.72 318.49,280.23 318.26,281.73 318.02,283.24 317.79,284.74 317.55,286.25 317.31,287.76 317.08,289.26 316.84,290.77 316.61,292.28 316.37,293.78 316.14,295.29 315.90,296.80 315.67,298.30 315.43,299.81 315.20,301.31 314.96,302.82 314.72,304.33 314.49,305.83 314.25,307.34 314.02,308.85 313.78,310.35 313.55,311.86 313.31,313.37 313.08,314.87 312.84,316.38 312.61,317.88 312.37,319.39 312.13,320.90 311.90,322.40 311.66,323.91 311.43,325.42 311.19,326.92 310.96,328.43 310.72,329.94 310.49,331.44 310.25,332.95 310.02,334.46 309.78,335.96 309.54,337.47 309.31,338.97 309.07,340.48 308.84,341.99 308.60,343.49 308.37,345.00 308.13,346.51 307.90,348.01 307.66,349.52 307.43,351.03 307.19,352.53 306.95,354.04 306.72,355.54 306.48,357.05 306.25,358.56 306.01,360.06 305.78,361.57 305.54,363.08 305.31,364.58 305.07,366.09 304.83,367.60 304.60,369.10 304.36,370.61 304.13,372.11 303.89,373.62 303.66,375.13 303.42,376.63 303.19,378.14 302.95,379.65 302.72,381.15 302.48,382.66 302.24,384.17 302.01,385.67 301.77,387.18 301.54,388.69 301.30,390.19 301.07,391.70 300.83,393.20 300.60,394.71 300.36,396.22 300.13,397.72 299.89,399.23 299.65,400.74 299.42,402.24 299.18,403.75 298.95,405.26 298.71,406.76 298.48,408.27 298.24,409.77 298.01,411.28 297.77,412.79 297.54,414.29 297.30,415.80" stroke="#0000ff" stroke-width="1.7" fill="none" /><polyline points="297.30,415.80 297.58,417.21 297.87,418.61 298.15,420.02 298.43,421.43 298.71,422.83 299.00,424.24 299.28,425.65 299.56,427.05 299.84,428.46 300.13,429.87 300.41,431.27 300.69,432.68 300.97,434.09 301.26,435.49 301.54,436.90 301.82,438.31 302.10,439.71 302.39,441.12 302.67,442.53 302.95,443.93 303.23,445.34 303.52,446.75 303.80,448.16 304.08,449.56 304.36,450.97 304.65,452.38 304.93,453.78 305.21,455.19 305.49,456.60 305.78,458.00 306.06,459.41 306.34,460.82 306.62,462.22 306.91,463.63 307.19,465.04 307.47,466.44 307.75,467.85 308.04,469.26 308.32,470.66 308.60,472.07 308.88,473.48 309.17,474.88 309.45,476.29 309.73,477.70 310.02,479.10 310.30,480.51 310.58,481.92 310.86,483.32 311.15,484.73 311.43,486.14 311.71,487.54 311.99,488.95 312.28,490.36 312.56,491.76 312.84,493.17 313.12,494.58 313.41,495.98 313.69,497.39 313.97,498.80 314.25,500.20 314.54,501.61 314.82,503.02 315.10,504.43 315.38,505.83 315.67,507.24 315.95,508.65 316.23,510.05 316.51,511.46 316.80,512.87 317.08,514.27 317.36,515.68 317.64,517.09 317.93,518.49 318.21,519.90 318.49,521.31 318.77,522.71 319.06,524.12 319.34,525.53 319.62,526.93 319.90,528.34 320.19,529.75 320.47,531.15 320.75,532.56 321.04,533.97 321.32,535.37 321.60,536.78 321.88,538.19 322.17,539.59 322.45,541.00 322.73,542.41 323.01,543.81 323.30,545.22 323.58,546.63 323.86,548.03 324.14,549.44 324.43,550.85 324.71,552.25 324.99,553.66 325.27,555.07 325.56,556.47" stroke="#0000ff" stroke-width="1.7" fill="none" /><polyline points="207.75,185.16 207.51,186.67 207.28,188.17 207.04,189.68 206.80,191.19 206.57,192.69 206.33,194.20 206.10,195.71 205.86,197.21 205.63,198.72 205.39,200.23 205.16,201.73 204.92,203.24 204.69,204.74 204.45,206.25 204.21,207.76 203.98,209.26 203.74,210.77 203.51,212.28 203.27,213.78 203.04,215.29 202.80,216.80 202.57,218.30 202.33,219.81 202.10,221.31 201.86,222.82 201.62,224.33 201.39,225.83 201.15,227.34 200.92,228.85 200.68,230.35 200.45,231.86 200.21,233.37 199.98,234.87 199.74,236.38 199.51,237.88 199.27,239.39 199.03,240.90 198.80,242.40 198.56,243.91 198.33,245.42 198.09,246.92 197.86,248.43 197.62,249.94 197.39,251.44 197.15,252.95 196.92,254.46 196.68,255.96 196.44,257.47 196.21,258.97 195.97,260.48 195.74,261.99 195.50,263.49 195.27,265.00 195.03,266.51 194.80,268.01 194.56,269.52 194.33,271.03 194.09,272.53 193.85,274.04 193.62,275.54 193.38,277.05 193.15,278.56 192.91,280.06 192.68,281.57 192.44,283.08 192.21,284.58 191.97,286.09 191.73,287.60 191.50,289.10 191.26,290.61 191.03,292.11 190.79,293.62 190.56,295.13 190.32,296.63 190.09,298.14 189.85,299.65 189.62,301.15 189.38,302.66 189.14,304.17 188.91,305.67 188.67,307.18 188.44,308.69 188.20,310.19 187.97,311.70 187.73,313.20 187.50,314.71 187.26,316.22 187.03,317.72 186.79,319.23 186.55,320.74 186.32,322.24 186.08,323.75 185.85,325.26 185.61,326.76 185.38,328.27 185.14,329.77 184.91,331.28 184.67,332.79 184.44,334.29 184.20,335.80" stroke="#ff0000" stroke-width="1.5" fill="none" /><polyline points="184.20,335.80 184.44,336.97 184.67,338.14 184.91,339.32 185.14,340.49 185.38,341.66 185.61,342.83 185.85,344.01 186.08,345.18 186.32,346.35 186.55,347.52 186.79,348.70 187.03,349.87 187.26,351.04 187.50,352.21 187.73,353.38 187.97,354.56 188.20,355.73 188.44,356.90 188.67,358.07 188.91,359.25 189.14,360.42 189.38,361.59 189.62,362.76 189.85,363.93 190.09,365.11 190.32,366.28 190.56,367.45 190.79,368.62 191.03,369.80 191.26,370.97 191.50,372.14 191.73,373.31 191.97,374.49 192.21,375.66 192.44,376.83 192.68,378.00 192.91,379.17 193.15,380.35 193.38,381.52 193.62,382.69 193.85,383.86 194.09,385.04 194.33,386.21 194.56,387.38 194.80,388.55 195.03,389.73 195.27,390.90 195.50,392.07 195.74,393.24 195.97,394.41 196.21,395.59 196.44,396.76 196.68,397.93 196.92,399.10 197.15,400.28 197.39,401.45 197.62,402.62 197.86,403.79 198.09,404.97 198.33,406.14 198.56,407.31 198.80,408.48 199.03,409.65 199.27,410.83 199.51,412.00 199.74,413.17 199.98,414.34 200.21,415.52 200.45,416.69 200.68,417.86 200.92,419.03 201.15,420.20 201.39,421.38 201.62,422.55 201.86,423.72 202.10,424.89 202.33,426.07 202.57,427.24 202.80,428.41 203.04,429.58 203.27,430.76 203.51,431.93 203.74,433.10 203.98,434.27 204.21,435.44 204.45,436.62 204.69,437.79 204.92,438.96 205.16,440.13 205.39,441.31 205.63,442.48 205.86,443.65 206.10,444.82 206.33,446.00 206.57,447.17 206.80,448.34 207.04,449.51 207.28,450.68 207.51,451.86 207.75,453.03" stroke="#ff0000" stroke-width="1.5" fill="none" /></g><path d="M320.00,70.00 L325.80,86.50 C325.80,88.05 323.20,89.30 320.00,89.30 C316.80,89.30 314.20,88.05 314.20,86.50 Z" fill="#000"/><path d="M547.00,400.20 L527.78,392.73 C526.66,391.94 527.03,389.46 528.63,387.21 C530.22,384.95 532.43,383.77 533.56,384.57 Z" fill="#000"/><g clip-path="url(#dh1)"><path d="M319.80,239.60 L307.14,255.45 C306.24,256.09 304.05,254.56 302.26,252.04 C300.48,249.52 299.75,246.95 300.66,246.32 Z" fill="#505050"/></g><g clip-path="url(#dh3)"><path d="M319.80,239.60 L307.14,255.45 C306.24,256.09 304.05,254.56 302.26,252.04 C300.48,249.52 299.75,246.95 300.66,246.32 Z" fill="#919191"/></g><g clip-path="url(#dh2)"><path d="M319.80,239.60 L307.14,255.45 C306.24,256.09 304.05,254.56 302.26,252.04 C300.48,249.52 299.75,246.95 300.66,246.32 Z" fill="#787878"/></g><g clip-path="url(#dh4)"><path d="M319.80,239.60 L307.14,255.45 C306.24,256.09 304.05,254.56 302.26,252.04 C300.48,249.52 299.75,246.95 300.66,246.32 Z" fill="#a0a0a0"/></g><path d="M84.88,167.64 L88.02,183.82 C87.74,185.62 85.03,186.69 81.98,186.21 C78.92,185.73 76.67,183.89 76.95,182.09 Z" fill="#0000ff"/><path d="M84.84,324.22 L76.93,313.26 C76.47,310.99 78.56,308.65 81.59,308.04 C84.63,307.43 87.45,308.78 87.91,311.06 Z" fill="#0000ff"/><path d="M311.08,327.64 L314.22,343.82 C313.94,345.62 311.23,346.69 308.18,346.21 C305.12,345.73 302.87,343.89 303.15,342.09 Z" fill="#0000ff"/><path d="M311.04,484.22 L303.13,473.26 C302.67,470.99 304.76,468.65 307.79,468.04 C310.83,467.43 313.65,468.78 314.11,471.06 Z" fill="#0000ff"/><circle cx="71.10" cy="255.80" r="5.5" fill="#000"/><circle cx="184.20" cy="335.80" r="5.5" fill="#000"/><circle cx="297.30" cy="415.80" r="5.5" fill="#000"/><circle cx="557.10" cy="71.25" r="5.5" fill="#000"/><text x="310.20" y="60.60" font-size="25.0" textLength="27.50" lengthAdjust="spacingAndGlyphs" fill="#000" >up</text><text x="520.20" y="62.30" font-size="25.0" textLength="48.50" lengthAdjust="spacingAndGlyphs" fill="#000" >look</text><text x="580.60" y="62.30" font-size="25.0" textLength="22.50" lengthAdjust="spacingAndGlyphs" fill="#000" >at</text><rect x="569" y="66.2" width="11.2" height="1.3" fill="#000"/><text x="519.20" y="426.90" font-size="25.0" textLength="58.00" lengthAdjust="spacingAndGlyphs" fill="#000" >right</text><text x="21.20" y="354.00" font-size="25.0" textLength="64.00" lengthAdjust="spacingAndGlyphs" fill="#ff0000" >angle</text></svg></body></html>
